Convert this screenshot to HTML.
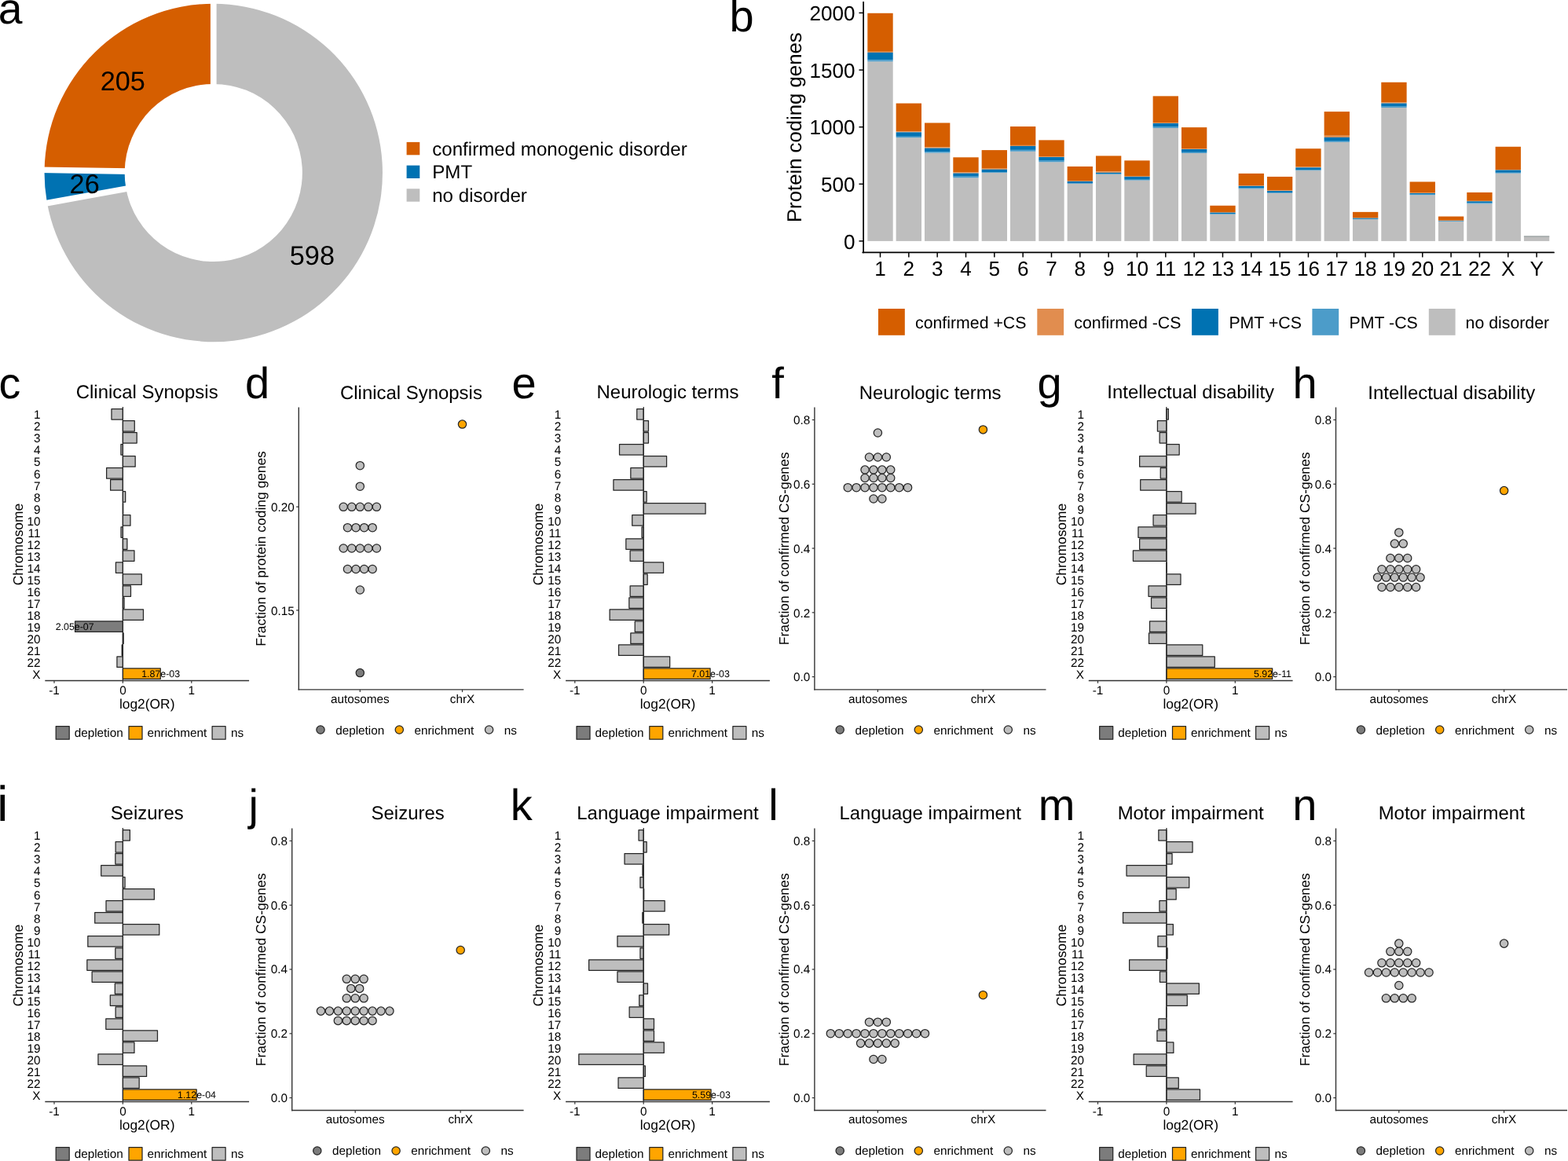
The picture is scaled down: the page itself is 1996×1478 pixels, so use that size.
<!DOCTYPE html>
<html lang="en"><head><meta charset="utf-8"><title>Figure</title>
<style>
html,body{margin:0;padding:0;background:#fff;}
body{width:1996px;height:1478px;overflow:hidden;}
svg{display:block;font-family:'Liberation Sans', Arial, Helvetica, sans-serif;text-rendering:geometricPrecision;}
</style></head><body>
<svg width="1996" height="1478" viewBox="0 0 1996 1478" role="img" aria-label="Multi-panel figure: gene disorder annotation by chromosome">
<rect x="0" y="0" width="1996" height="1478" fill="#ffffff"/>
<path d="M271.75 4.8 A215.2 215.2 0 0 0 56.58 216.33 L158.67 218.07 A113.1 113.1 0 0 1 271.75 106.9 Z" fill="#d55e00"/>
<path d="M56.58 216.33 A215.2 215.2 0 0 0 60.03 258.53 L160.48 240.25 A113.1 113.1 0 0 1 158.67 218.07 Z" fill="#0072b2"/>
<path d="M60.03 258.53 A215.2 215.2 0 1 0 271.75 4.8 L271.75 106.9 A113.1 113.1 0 1 1 160.48 240.25 Z" fill="#bebebe"/>
<line x1="271.75" y1="112.9" x2="271.75" y2="-1.2" stroke="#fff" stroke-width="7.7" stroke-linecap="butt"/>
<line x1="164.67" y1="218.17" x2="50.58" y2="216.23" stroke="#fff" stroke-width="7.7" stroke-linecap="butt"/>
<line x1="166.38" y1="239.17" x2="54.12" y2="259.6" stroke="#fff" stroke-width="7.7" stroke-linecap="butt"/>
<text x="156.3" y="115.1" font-size="34.3" text-anchor="middle" fill="#000">205</text>
<text x="107.7" y="245.6" font-size="34.3" text-anchor="middle" fill="#000">26</text>
<text x="397.4" y="337.4" font-size="34.3" text-anchor="middle" fill="#000">598</text>
<rect x="517.6" y="180.9" width="16.7" height="16.4" fill="#d55e00"/>
<text x="550.2" y="197.5" font-size="24.14" text-anchor="start" fill="#000">confirmed monogenic disorder</text>
<rect x="517.6" y="210.6" width="16.7" height="16.4" fill="#0072b2"/>
<text x="550.2" y="227.2" font-size="24.14" text-anchor="start" fill="#000">PMT</text>
<rect x="517.6" y="240.3" width="16.7" height="16.4" fill="#bebebe"/>
<text x="550.2" y="256.9" font-size="24.14" text-anchor="start" fill="#000">no disorder</text>
<text x="-2.3" y="29.9" font-size="55.2" text-anchor="start" fill="#000">a</text>
<rect x="1104.33" y="78.23" width="32.35" height="228.67" fill="#bebebe"/>
<rect x="1104.33" y="16.78" width="32.35" height="49.04" fill="#d55e00"/>
<rect x="1104.33" y="65.78" width="32.35" height="1.13" fill="#e18d4f"/>
<rect x="1104.33" y="66.86" width="32.35" height="9.52" fill="#0072b2"/>
<rect x="1104.33" y="76.33" width="32.35" height="1.94" fill="#4c9cc9"/>
<rect x="1140.65" y="175.13" width="32.35" height="131.77" fill="#bebebe"/>
<rect x="1140.65" y="131.55" width="32.35" height="35.78" fill="#d55e00"/>
<rect x="1140.65" y="167.28" width="32.35" height="1.13" fill="#e18d4f"/>
<rect x="1140.65" y="168.36" width="32.35" height="5.46" fill="#0072b2"/>
<rect x="1140.65" y="173.78" width="32.35" height="1.4" fill="#4c9cc9"/>
<rect x="1176.99" y="194.62" width="32.35" height="112.28" fill="#bebebe"/>
<rect x="1176.99" y="156.45" width="32.35" height="30.91" fill="#d55e00"/>
<rect x="1176.99" y="187.31" width="32.35" height="1.4" fill="#e18d4f"/>
<rect x="1176.99" y="188.66" width="32.35" height="4.92" fill="#0072b2"/>
<rect x="1176.99" y="193.54" width="32.35" height="1.13" fill="#4c9cc9"/>
<rect x="1213.32" y="226.29" width="32.35" height="80.61" fill="#bebebe"/>
<rect x="1213.32" y="200.3" width="32.35" height="19" fill="#d55e00"/>
<rect x="1213.32" y="219.25" width="32.35" height="1.4" fill="#e18d4f"/>
<rect x="1213.32" y="220.6" width="32.35" height="4.11" fill="#0072b2"/>
<rect x="1213.32" y="224.66" width="32.35" height="1.67" fill="#4c9cc9"/>
<rect x="1249.64" y="219.79" width="32.35" height="87.11" fill="#bebebe"/>
<rect x="1249.64" y="191.1" width="32.35" height="23.6" fill="#d55e00"/>
<rect x="1249.64" y="214.65" width="32.35" height="1.13" fill="#e18d4f"/>
<rect x="1249.64" y="215.73" width="32.35" height="3.3" fill="#0072b2"/>
<rect x="1249.64" y="218.98" width="32.35" height="0.86" fill="#4c9cc9"/>
<rect x="1285.98" y="192.72" width="32.35" height="114.18" fill="#bebebe"/>
<rect x="1285.98" y="161.05" width="32.35" height="23.87" fill="#d55e00"/>
<rect x="1285.98" y="184.87" width="32.35" height="1.13" fill="#e18d4f"/>
<rect x="1285.98" y="185.96" width="32.35" height="4.92" fill="#0072b2"/>
<rect x="1285.98" y="190.83" width="32.35" height="1.94" fill="#4c9cc9"/>
<rect x="1322.31" y="206.26" width="32.35" height="100.64" fill="#bebebe"/>
<rect x="1322.31" y="178.38" width="32.35" height="21.16" fill="#d55e00"/>
<rect x="1322.31" y="199.49" width="32.35" height="0.59" fill="#e18d4f"/>
<rect x="1322.31" y="200.03" width="32.35" height="4.65" fill="#0072b2"/>
<rect x="1322.31" y="204.63" width="32.35" height="1.67" fill="#4c9cc9"/>
<rect x="1358.63" y="233.87" width="32.35" height="73.03" fill="#bebebe"/>
<rect x="1358.63" y="211.94" width="32.35" height="18.19" fill="#d55e00"/>
<rect x="1358.63" y="230.08" width="32.35" height="0.86" fill="#e18d4f"/>
<rect x="1358.63" y="230.89" width="32.35" height="2.22" fill="#0072b2"/>
<rect x="1358.63" y="233.06" width="32.35" height="0.86" fill="#4c9cc9"/>
<rect x="1394.96" y="221.96" width="32.35" height="84.94" fill="#bebebe"/>
<rect x="1394.96" y="198.41" width="32.35" height="20.08" fill="#d55e00"/>
<rect x="1394.96" y="218.44" width="32.35" height="1.4" fill="#e18d4f"/>
<rect x="1394.96" y="219.79" width="32.35" height="1.67" fill="#0072b2"/>
<rect x="1394.96" y="221.42" width="32.35" height="0.59" fill="#4c9cc9"/>
<rect x="1431.3" y="229.54" width="32.35" height="77.36" fill="#bebebe"/>
<rect x="1431.3" y="204.36" width="32.35" height="19.81" fill="#d55e00"/>
<rect x="1431.3" y="224.12" width="32.35" height="0.86" fill="#e18d4f"/>
<rect x="1431.3" y="224.94" width="32.35" height="3.84" fill="#0072b2"/>
<rect x="1431.3" y="228.72" width="32.35" height="0.86" fill="#4c9cc9"/>
<rect x="1467.62" y="162.95" width="32.35" height="143.95" fill="#bebebe"/>
<rect x="1467.62" y="122.35" width="32.35" height="34.16" fill="#d55e00"/>
<rect x="1467.62" y="156.45" width="32.35" height="0.59" fill="#e18d4f"/>
<rect x="1467.62" y="156.99" width="32.35" height="4.11" fill="#0072b2"/>
<rect x="1467.62" y="161.05" width="32.35" height="1.94" fill="#4c9cc9"/>
<rect x="1503.96" y="194.89" width="32.35" height="112.01" fill="#bebebe"/>
<rect x="1503.96" y="162.14" width="32.35" height="27.39" fill="#d55e00"/>
<rect x="1503.96" y="189.48" width="32.35" height="0.59" fill="#e18d4f"/>
<rect x="1503.96" y="190.02" width="32.35" height="3.84" fill="#0072b2"/>
<rect x="1503.96" y="193.81" width="32.35" height="1.13" fill="#4c9cc9"/>
<rect x="1540.29" y="272.85" width="32.35" height="34.05" fill="#bebebe"/>
<rect x="1540.29" y="261.75" width="32.35" height="8.44" fill="#d55e00"/>
<rect x="1540.29" y="270.14" width="32.35" height="0.59" fill="#e18d4f"/>
<rect x="1540.29" y="270.68" width="32.35" height="1.67" fill="#0072b2"/>
<rect x="1540.29" y="272.3" width="32.35" height="0.59" fill="#4c9cc9"/>
<rect x="1576.62" y="240.36" width="32.35" height="66.54" fill="#bebebe"/>
<rect x="1576.62" y="220.87" width="32.35" height="15.48" fill="#d55e00"/>
<rect x="1576.62" y="236.3" width="32.35" height="0.59" fill="#e18d4f"/>
<rect x="1576.62" y="236.84" width="32.35" height="2.76" fill="#0072b2"/>
<rect x="1576.62" y="239.55" width="32.35" height="0.86" fill="#4c9cc9"/>
<rect x="1612.94" y="245.78" width="32.35" height="61.12" fill="#bebebe"/>
<rect x="1612.94" y="224.94" width="32.35" height="17.37" fill="#d55e00"/>
<rect x="1612.94" y="242.26" width="32.35" height="0.86" fill="#e18d4f"/>
<rect x="1612.94" y="243.07" width="32.35" height="1.94" fill="#0072b2"/>
<rect x="1612.94" y="244.97" width="32.35" height="0.86" fill="#4c9cc9"/>
<rect x="1649.27" y="217.09" width="32.35" height="89.81" fill="#bebebe"/>
<rect x="1649.27" y="189.21" width="32.35" height="23.33" fill="#d55e00"/>
<rect x="1649.27" y="212.48" width="32.35" height="0.86" fill="#e18d4f"/>
<rect x="1649.27" y="213.3" width="32.35" height="3.03" fill="#0072b2"/>
<rect x="1649.27" y="216.27" width="32.35" height="0.86" fill="#4c9cc9"/>
<rect x="1685.61" y="180.81" width="32.35" height="126.09" fill="#bebebe"/>
<rect x="1685.61" y="142.11" width="32.35" height="30.64" fill="#d55e00"/>
<rect x="1685.61" y="172.69" width="32.35" height="2.22" fill="#e18d4f"/>
<rect x="1685.61" y="174.86" width="32.35" height="4.92" fill="#0072b2"/>
<rect x="1685.61" y="179.73" width="32.35" height="1.13" fill="#4c9cc9"/>
<rect x="1721.94" y="279.07" width="32.35" height="27.83" fill="#bebebe"/>
<rect x="1721.94" y="269.87" width="32.35" height="7.63" fill="#d55e00"/>
<rect x="1721.94" y="277.45" width="32.35" height="0.32" fill="#e18d4f"/>
<rect x="1721.94" y="277.72" width="32.35" height="1.13" fill="#0072b2"/>
<rect x="1721.94" y="278.8" width="32.35" height="0.32" fill="#4c9cc9"/>
<rect x="1758.27" y="136.96" width="32.35" height="169.94" fill="#bebebe"/>
<rect x="1758.27" y="104.75" width="32.35" height="25.76" fill="#d55e00"/>
<rect x="1758.27" y="130.47" width="32.35" height="1.13" fill="#e18d4f"/>
<rect x="1758.27" y="131.55" width="32.35" height="4.11" fill="#0072b2"/>
<rect x="1758.27" y="135.61" width="32.35" height="1.4" fill="#4c9cc9"/>
<rect x="1794.6" y="248.21" width="32.35" height="58.69" fill="#bebebe"/>
<rect x="1794.6" y="231.43" width="32.35" height="14.13" fill="#d55e00"/>
<rect x="1794.6" y="245.51" width="32.35" height="0.59" fill="#e18d4f"/>
<rect x="1794.6" y="246.05" width="32.35" height="1.67" fill="#0072b2"/>
<rect x="1794.6" y="247.67" width="32.35" height="0.59" fill="#4c9cc9"/>
<rect x="1830.92" y="281.78" width="32.35" height="25.12" fill="#bebebe"/>
<rect x="1830.92" y="275.55" width="32.35" height="5.19" fill="#d55e00"/>
<rect x="1830.92" y="280.7" width="32.35" height="0.32" fill="#e18d4f"/>
<rect x="1830.92" y="280.97" width="32.35" height="0.59" fill="#0072b2"/>
<rect x="1830.92" y="281.51" width="32.35" height="0.32" fill="#4c9cc9"/>
<rect x="1867.25" y="259.31" width="32.35" height="47.59" fill="#bebebe"/>
<rect x="1867.25" y="244.97" width="32.35" height="10.88" fill="#d55e00"/>
<rect x="1867.25" y="255.79" width="32.35" height="0.59" fill="#e18d4f"/>
<rect x="1867.25" y="256.33" width="32.35" height="2.22" fill="#0072b2"/>
<rect x="1867.25" y="258.5" width="32.35" height="0.86" fill="#4c9cc9"/>
<rect x="1903.59" y="220.6" width="32.35" height="86.3" fill="#bebebe"/>
<rect x="1903.59" y="186.77" width="32.35" height="29.28" fill="#d55e00"/>
<rect x="1903.59" y="216" width="32.35" height="0.59" fill="#e18d4f"/>
<rect x="1903.59" y="216.54" width="32.35" height="3.3" fill="#0072b2"/>
<rect x="1903.59" y="219.79" width="32.35" height="0.86" fill="#4c9cc9"/>
<rect x="1939.91" y="300.45" width="32.35" height="6.45" fill="#bebebe"/>
<rect x="1939.91" y="300.45" width="32.35" height="1.1" fill="#979f9f"/>
<line x1="1099.1" y1="2.1" x2="1099.1" y2="322.35" stroke="#000" stroke-width="1.75" stroke-linecap="butt"/>
<line x1="1098.25" y1="321.45" x2="1978" y2="321.45" stroke="#000" stroke-width="1.8" stroke-linecap="round"/>
<line x1="1093.5" y1="306.9" x2="1099.1" y2="306.9" stroke="#000" stroke-width="1.5" stroke-linecap="butt"/>
<text x="1088.6" y="316.5" font-size="26.1" text-anchor="end" fill="#000">0</text>
<line x1="1093.5" y1="234.3" x2="1099.1" y2="234.3" stroke="#000" stroke-width="1.5" stroke-linecap="butt"/>
<text x="1088.6" y="243.9" font-size="26.1" text-anchor="end" fill="#000">500</text>
<line x1="1093.5" y1="161.7" x2="1099.1" y2="161.7" stroke="#000" stroke-width="1.5" stroke-linecap="butt"/>
<text x="1088.6" y="171.3" font-size="26.1" text-anchor="end" fill="#000">1000</text>
<line x1="1093.5" y1="89.1" x2="1099.1" y2="89.1" stroke="#000" stroke-width="1.5" stroke-linecap="butt"/>
<text x="1088.6" y="98.7" font-size="26.1" text-anchor="end" fill="#000">1500</text>
<line x1="1093.5" y1="16.4" x2="1099.1" y2="16.4" stroke="#000" stroke-width="1.5" stroke-linecap="butt"/>
<text x="1088.6" y="26" font-size="26.1" text-anchor="end" fill="#000">2000</text>
<line x1="1120.5" y1="321.45" x2="1120.5" y2="327.6" stroke="#000" stroke-width="1.5" stroke-linecap="butt"/>
<text x="1120.5" y="351.2" font-size="26.1" text-anchor="middle" fill="#000">1</text>
<line x1="1156.83" y1="321.45" x2="1156.83" y2="327.6" stroke="#000" stroke-width="1.5" stroke-linecap="butt"/>
<text x="1156.83" y="351.2" font-size="26.1" text-anchor="middle" fill="#000">2</text>
<line x1="1193.16" y1="321.45" x2="1193.16" y2="327.6" stroke="#000" stroke-width="1.5" stroke-linecap="butt"/>
<text x="1193.16" y="351.2" font-size="26.1" text-anchor="middle" fill="#000">3</text>
<line x1="1229.49" y1="321.45" x2="1229.49" y2="327.6" stroke="#000" stroke-width="1.5" stroke-linecap="butt"/>
<text x="1229.49" y="351.2" font-size="26.1" text-anchor="middle" fill="#000">4</text>
<line x1="1265.82" y1="321.45" x2="1265.82" y2="327.6" stroke="#000" stroke-width="1.5" stroke-linecap="butt"/>
<text x="1265.82" y="351.2" font-size="26.1" text-anchor="middle" fill="#000">5</text>
<line x1="1302.15" y1="321.45" x2="1302.15" y2="327.6" stroke="#000" stroke-width="1.5" stroke-linecap="butt"/>
<text x="1302.15" y="351.2" font-size="26.1" text-anchor="middle" fill="#000">6</text>
<line x1="1338.48" y1="321.45" x2="1338.48" y2="327.6" stroke="#000" stroke-width="1.5" stroke-linecap="butt"/>
<text x="1338.48" y="351.2" font-size="26.1" text-anchor="middle" fill="#000">7</text>
<line x1="1374.81" y1="321.45" x2="1374.81" y2="327.6" stroke="#000" stroke-width="1.5" stroke-linecap="butt"/>
<text x="1374.81" y="351.2" font-size="26.1" text-anchor="middle" fill="#000">8</text>
<line x1="1411.14" y1="321.45" x2="1411.14" y2="327.6" stroke="#000" stroke-width="1.5" stroke-linecap="butt"/>
<text x="1411.14" y="351.2" font-size="26.1" text-anchor="middle" fill="#000">9</text>
<line x1="1447.47" y1="321.45" x2="1447.47" y2="327.6" stroke="#000" stroke-width="1.5" stroke-linecap="butt"/>
<text x="1447.47" y="351.2" font-size="26.1" text-anchor="middle" fill="#000">10</text>
<line x1="1483.8" y1="321.45" x2="1483.8" y2="327.6" stroke="#000" stroke-width="1.5" stroke-linecap="butt"/>
<text x="1483.8" y="351.2" font-size="26.1" text-anchor="middle" fill="#000">11</text>
<line x1="1520.13" y1="321.45" x2="1520.13" y2="327.6" stroke="#000" stroke-width="1.5" stroke-linecap="butt"/>
<text x="1520.13" y="351.2" font-size="26.1" text-anchor="middle" fill="#000">12</text>
<line x1="1556.46" y1="321.45" x2="1556.46" y2="327.6" stroke="#000" stroke-width="1.5" stroke-linecap="butt"/>
<text x="1556.46" y="351.2" font-size="26.1" text-anchor="middle" fill="#000">13</text>
<line x1="1592.79" y1="321.45" x2="1592.79" y2="327.6" stroke="#000" stroke-width="1.5" stroke-linecap="butt"/>
<text x="1592.79" y="351.2" font-size="26.1" text-anchor="middle" fill="#000">14</text>
<line x1="1629.12" y1="321.45" x2="1629.12" y2="327.6" stroke="#000" stroke-width="1.5" stroke-linecap="butt"/>
<text x="1629.12" y="351.2" font-size="26.1" text-anchor="middle" fill="#000">15</text>
<line x1="1665.45" y1="321.45" x2="1665.45" y2="327.6" stroke="#000" stroke-width="1.5" stroke-linecap="butt"/>
<text x="1665.45" y="351.2" font-size="26.1" text-anchor="middle" fill="#000">16</text>
<line x1="1701.78" y1="321.45" x2="1701.78" y2="327.6" stroke="#000" stroke-width="1.5" stroke-linecap="butt"/>
<text x="1701.78" y="351.2" font-size="26.1" text-anchor="middle" fill="#000">17</text>
<line x1="1738.11" y1="321.45" x2="1738.11" y2="327.6" stroke="#000" stroke-width="1.5" stroke-linecap="butt"/>
<text x="1738.11" y="351.2" font-size="26.1" text-anchor="middle" fill="#000">18</text>
<line x1="1774.44" y1="321.45" x2="1774.44" y2="327.6" stroke="#000" stroke-width="1.5" stroke-linecap="butt"/>
<text x="1774.44" y="351.2" font-size="26.1" text-anchor="middle" fill="#000">19</text>
<line x1="1810.77" y1="321.45" x2="1810.77" y2="327.6" stroke="#000" stroke-width="1.5" stroke-linecap="butt"/>
<text x="1810.77" y="351.2" font-size="26.1" text-anchor="middle" fill="#000">20</text>
<line x1="1847.1" y1="321.45" x2="1847.1" y2="327.6" stroke="#000" stroke-width="1.5" stroke-linecap="butt"/>
<text x="1847.1" y="351.2" font-size="26.1" text-anchor="middle" fill="#000">21</text>
<line x1="1883.43" y1="321.45" x2="1883.43" y2="327.6" stroke="#000" stroke-width="1.5" stroke-linecap="butt"/>
<text x="1883.43" y="351.2" font-size="26.1" text-anchor="middle" fill="#000">22</text>
<line x1="1919.76" y1="321.45" x2="1919.76" y2="327.6" stroke="#000" stroke-width="1.5" stroke-linecap="butt"/>
<text x="1919.76" y="351.2" font-size="26.1" text-anchor="middle" fill="#000">X</text>
<line x1="1956.09" y1="321.45" x2="1956.09" y2="327.6" stroke="#000" stroke-width="1.5" stroke-linecap="butt"/>
<text x="1956.09" y="351.2" font-size="26.1" text-anchor="middle" fill="#000">Y</text>
<text x="1020.2" y="162.2" font-size="25.72" text-anchor="middle" fill="#000" transform="rotate(-90 1020.2 162.2)">Protein coding genes</text>
<rect x="1118" y="393" width="33.8" height="33.8" fill="#d55e00"/>
<text x="1165" y="417.8" font-size="21.3" text-anchor="start" fill="#000">confirmed +CS</text>
<rect x="1320.3" y="393" width="33.8" height="33.8" fill="#e18d4f"/>
<text x="1367.3" y="417.8" font-size="21.3" text-anchor="start" fill="#000">confirmed -CS</text>
<rect x="1517.1" y="393" width="33.8" height="33.8" fill="#0072b2"/>
<text x="1564.4" y="417.8" font-size="21.3" text-anchor="start" fill="#000">PMT +CS</text>
<rect x="1670.4" y="393" width="33.8" height="33.8" fill="#4c9cc9"/>
<text x="1717.6" y="417.8" font-size="21.3" text-anchor="start" fill="#000">PMT -CS</text>
<rect x="1818.8" y="393" width="33.8" height="33.8" fill="#bebebe"/>
<text x="1865.6" y="417.8" font-size="21.3" text-anchor="start" fill="#000">no disorder</text>
<text x="928.6" y="39.85" font-size="56" text-anchor="start" fill="#000">b</text>
<rect x="141.97" y="520.55" width="14.43" height="13.5" fill="#bebebe" stroke="#262626" stroke-width="1.25" stroke-linejoin="round"/>
<rect x="156.4" y="535.57" width="14.88" height="13.5" fill="#bebebe" stroke="#262626" stroke-width="1.25" stroke-linejoin="round"/>
<rect x="156.4" y="550.59" width="17.78" height="13.5" fill="#bebebe" stroke="#262626" stroke-width="1.25" stroke-linejoin="round"/>
<rect x="153.92" y="565.61" width="2.48" height="13.5" fill="#bebebe" stroke="#262626" stroke-width="1.25" stroke-linejoin="round"/>
<rect x="156.4" y="580.63" width="15.78" height="13.5" fill="#bebebe" stroke="#262626" stroke-width="1.25" stroke-linejoin="round"/>
<rect x="135.62" y="595.65" width="20.78" height="13.5" fill="#bebebe" stroke="#262626" stroke-width="1.25" stroke-linejoin="round"/>
<rect x="140.62" y="610.67" width="15.78" height="13.5" fill="#bebebe" stroke="#262626" stroke-width="1.25" stroke-linejoin="round"/>
<rect x="156.4" y="625.69" width="3.28" height="13.5" fill="#bebebe" stroke="#262626" stroke-width="1.25" stroke-linejoin="round"/>
<rect x="156.4" y="640.71" width="0.3" height="13.5" fill="#bebebe" stroke="#262626" stroke-width="1.25" stroke-linejoin="round"/>
<rect x="156.4" y="655.73" width="9.58" height="13.5" fill="#bebebe" stroke="#262626" stroke-width="1.25" stroke-linejoin="round"/>
<rect x="154.03" y="670.75" width="2.38" height="13.5" fill="#bebebe" stroke="#262626" stroke-width="1.25" stroke-linejoin="round"/>
<rect x="156.4" y="685.77" width="5.48" height="13.5" fill="#bebebe" stroke="#262626" stroke-width="1.25" stroke-linejoin="round"/>
<rect x="156.4" y="700.79" width="14.58" height="13.5" fill="#bebebe" stroke="#262626" stroke-width="1.25" stroke-linejoin="round"/>
<rect x="147.42" y="715.81" width="8.98" height="13.5" fill="#bebebe" stroke="#262626" stroke-width="1.25" stroke-linejoin="round"/>
<rect x="156.4" y="730.83" width="23.88" height="13.5" fill="#bebebe" stroke="#262626" stroke-width="1.25" stroke-linejoin="round"/>
<rect x="156.4" y="745.85" width="10.08" height="13.5" fill="#bebebe" stroke="#262626" stroke-width="1.25" stroke-linejoin="round"/>
<rect x="156.4" y="760.87" width="1.68" height="13.5" fill="#bebebe" stroke="#262626" stroke-width="1.25" stroke-linejoin="round"/>
<rect x="156.4" y="775.89" width="26.08" height="13.5" fill="#bebebe" stroke="#262626" stroke-width="1.25" stroke-linejoin="round"/>
<rect x="95.53" y="790.91" width="60.88" height="13.5" fill="#7c7c7c" stroke="#262626" stroke-width="1.25" stroke-linejoin="round"/>
<rect x="156.4" y="805.93" width="0.8" height="13.5" fill="#bebebe" stroke="#262626" stroke-width="1.25" stroke-linejoin="round"/>
<rect x="155.2" y="820.95" width="1.2" height="13.5" fill="#bebebe" stroke="#262626" stroke-width="1.25" stroke-linejoin="round"/>
<rect x="148.92" y="835.97" width="7.48" height="13.5" fill="#bebebe" stroke="#262626" stroke-width="1.25" stroke-linejoin="round"/>
<rect x="156.4" y="850.99" width="47.88" height="13.5" fill="#ffa500" stroke="#262626" stroke-width="1.25" stroke-linejoin="round"/>
<line x1="156.4" y1="518" x2="156.4" y2="866.4" stroke="#262626" stroke-width="1.25" stroke-linecap="butt"/>
<text x="95.2" y="802.41" font-size="12.4" text-anchor="middle" fill="#000">2.05e-07</text>
<text x="204.6" y="862.49" font-size="12.4" text-anchor="middle" fill="#000">1.87e-03</text>
<line x1="57.3" y1="866.5" x2="317.1" y2="866.5" stroke="#333333" stroke-width="1.4" stroke-linecap="butt"/>
<line x1="69" y1="866.5" x2="69" y2="869.8" stroke="#333333" stroke-width="1.2" stroke-linecap="butt"/>
<text x="69" y="883.5" font-size="15.3" text-anchor="middle" fill="#000">-1</text>
<line x1="156.4" y1="866.5" x2="156.4" y2="869.8" stroke="#333333" stroke-width="1.2" stroke-linecap="butt"/>
<text x="156.4" y="883.5" font-size="15.3" text-anchor="middle" fill="#000">0</text>
<line x1="243.8" y1="866.5" x2="243.8" y2="869.8" stroke="#333333" stroke-width="1.2" stroke-linecap="butt"/>
<text x="243.8" y="883.5" font-size="15.3" text-anchor="middle" fill="#000">1</text>
<text x="187.2" y="902.2" font-size="17.4" text-anchor="middle" fill="#000">log2(OR)</text>
<text x="51.5" y="533.4" font-size="15.3" text-anchor="end" fill="#000">1</text>
<text x="51.5" y="548.42" font-size="15.3" text-anchor="end" fill="#000">2</text>
<text x="51.5" y="563.44" font-size="15.3" text-anchor="end" fill="#000">3</text>
<text x="51.5" y="578.46" font-size="15.3" text-anchor="end" fill="#000">4</text>
<text x="51.5" y="593.48" font-size="15.3" text-anchor="end" fill="#000">5</text>
<text x="51.5" y="608.5" font-size="15.3" text-anchor="end" fill="#000">6</text>
<text x="51.5" y="623.52" font-size="15.3" text-anchor="end" fill="#000">7</text>
<text x="51.5" y="638.54" font-size="15.3" text-anchor="end" fill="#000">8</text>
<text x="51.5" y="653.56" font-size="15.3" text-anchor="end" fill="#000">9</text>
<text x="51.5" y="668.58" font-size="15.3" text-anchor="end" fill="#000">10</text>
<text x="51.5" y="683.6" font-size="15.3" text-anchor="end" fill="#000">11</text>
<text x="51.5" y="698.62" font-size="15.3" text-anchor="end" fill="#000">12</text>
<text x="51.5" y="713.64" font-size="15.3" text-anchor="end" fill="#000">13</text>
<text x="51.5" y="728.66" font-size="15.3" text-anchor="end" fill="#000">14</text>
<text x="51.5" y="743.68" font-size="15.3" text-anchor="end" fill="#000">15</text>
<text x="51.5" y="758.7" font-size="15.3" text-anchor="end" fill="#000">16</text>
<text x="51.5" y="773.72" font-size="15.3" text-anchor="end" fill="#000">17</text>
<text x="51.5" y="788.74" font-size="15.3" text-anchor="end" fill="#000">18</text>
<text x="51.5" y="803.76" font-size="15.3" text-anchor="end" fill="#000">19</text>
<text x="51.5" y="818.78" font-size="15.3" text-anchor="end" fill="#000">20</text>
<text x="51.5" y="833.8" font-size="15.3" text-anchor="end" fill="#000">21</text>
<text x="51.5" y="848.82" font-size="15.3" text-anchor="end" fill="#000">22</text>
<text x="51.5" y="863.84" font-size="15.3" text-anchor="end" fill="#000">X</text>
<text x="28.6" y="693" font-size="17.4" text-anchor="middle" fill="#000" transform="rotate(-90 28.6 693)">Chromosome</text>
<text x="187.2" y="507.35" font-size="23.93" text-anchor="middle" fill="#000">Clinical Synopsis</text>
<rect x="71.2" y="924.5" width="17" height="16.7" fill="#7c7c7c" stroke="#262626" stroke-width="1.25" stroke-linejoin="round"/>
<text x="94.7" y="938.3" font-size="15.3" text-anchor="start" fill="#000">depletion</text>
<rect x="164" y="924.5" width="17" height="16.7" fill="#ffa500" stroke="#262626" stroke-width="1.25" stroke-linejoin="round"/>
<text x="187.6" y="938.3" font-size="15.3" text-anchor="start" fill="#000">enrichment</text>
<rect x="270.1" y="924.5" width="17" height="16.7" fill="#bebebe" stroke="#262626" stroke-width="1.25" stroke-linejoin="round"/>
<text x="293.9" y="938.3" font-size="15.3" text-anchor="start" fill="#000">ns</text>
<text x="-1.5" y="507.1" font-size="55.6" text-anchor="start" fill="#000">c</text>
<rect x="810.73" y="520.55" width="8.47" height="13.5" fill="#bebebe" stroke="#262626" stroke-width="1.25" stroke-linejoin="round"/>
<rect x="819.2" y="535.57" width="6.27" height="13.5" fill="#bebebe" stroke="#262626" stroke-width="1.25" stroke-linejoin="round"/>
<rect x="819.2" y="550.59" width="6.27" height="13.5" fill="#bebebe" stroke="#262626" stroke-width="1.25" stroke-linejoin="round"/>
<rect x="788.53" y="565.61" width="30.67" height="13.5" fill="#bebebe" stroke="#262626" stroke-width="1.25" stroke-linejoin="round"/>
<rect x="819.2" y="580.63" width="29.38" height="13.5" fill="#bebebe" stroke="#262626" stroke-width="1.25" stroke-linejoin="round"/>
<rect x="802.83" y="595.65" width="16.38" height="13.5" fill="#bebebe" stroke="#262626" stroke-width="1.25" stroke-linejoin="round"/>
<rect x="780.93" y="610.67" width="38.27" height="13.5" fill="#bebebe" stroke="#262626" stroke-width="1.25" stroke-linejoin="round"/>
<rect x="819.2" y="625.69" width="3.97" height="13.5" fill="#bebebe" stroke="#262626" stroke-width="1.25" stroke-linejoin="round"/>
<rect x="819.2" y="640.71" width="78.88" height="13.5" fill="#bebebe" stroke="#262626" stroke-width="1.25" stroke-linejoin="round"/>
<rect x="804.73" y="655.73" width="14.47" height="13.5" fill="#bebebe" stroke="#262626" stroke-width="1.25" stroke-linejoin="round"/>
<rect x="817.03" y="670.75" width="2.17" height="13.5" fill="#bebebe" stroke="#262626" stroke-width="1.25" stroke-linejoin="round"/>
<rect x="796.83" y="685.77" width="22.38" height="13.5" fill="#bebebe" stroke="#262626" stroke-width="1.25" stroke-linejoin="round"/>
<rect x="802.13" y="700.79" width="17.07" height="13.5" fill="#bebebe" stroke="#262626" stroke-width="1.25" stroke-linejoin="round"/>
<rect x="819.2" y="715.81" width="25.38" height="13.5" fill="#bebebe" stroke="#262626" stroke-width="1.25" stroke-linejoin="round"/>
<rect x="819.2" y="730.83" width="4.97" height="13.5" fill="#bebebe" stroke="#262626" stroke-width="1.25" stroke-linejoin="round"/>
<rect x="802.13" y="745.85" width="17.07" height="13.5" fill="#bebebe" stroke="#262626" stroke-width="1.25" stroke-linejoin="round"/>
<rect x="800.83" y="760.87" width="18.38" height="13.5" fill="#bebebe" stroke="#262626" stroke-width="1.25" stroke-linejoin="round"/>
<rect x="776.13" y="775.89" width="43.07" height="13.5" fill="#bebebe" stroke="#262626" stroke-width="1.25" stroke-linejoin="round"/>
<rect x="808.23" y="790.91" width="10.97" height="13.5" fill="#bebebe" stroke="#262626" stroke-width="1.25" stroke-linejoin="round"/>
<rect x="802.83" y="805.93" width="16.38" height="13.5" fill="#bebebe" stroke="#262626" stroke-width="1.25" stroke-linejoin="round"/>
<rect x="787.53" y="820.95" width="31.67" height="13.5" fill="#bebebe" stroke="#262626" stroke-width="1.25" stroke-linejoin="round"/>
<rect x="819.2" y="835.97" width="33.47" height="13.5" fill="#bebebe" stroke="#262626" stroke-width="1.25" stroke-linejoin="round"/>
<rect x="819.2" y="850.99" width="84.88" height="13.5" fill="#ffa500" stroke="#262626" stroke-width="1.25" stroke-linejoin="round"/>
<line x1="819.2" y1="518" x2="819.2" y2="866.4" stroke="#262626" stroke-width="1.25" stroke-linecap="butt"/>
<text x="904.4" y="862.49" font-size="12.4" text-anchor="middle" fill="#000">7.01e-03</text>
<line x1="720.1" y1="866.5" x2="979.9" y2="866.5" stroke="#333333" stroke-width="1.4" stroke-linecap="butt"/>
<line x1="731.8" y1="866.5" x2="731.8" y2="869.8" stroke="#333333" stroke-width="1.2" stroke-linecap="butt"/>
<text x="731.8" y="883.5" font-size="15.3" text-anchor="middle" fill="#000">-1</text>
<line x1="819.2" y1="866.5" x2="819.2" y2="869.8" stroke="#333333" stroke-width="1.2" stroke-linecap="butt"/>
<text x="819.2" y="883.5" font-size="15.3" text-anchor="middle" fill="#000">0</text>
<line x1="906.6" y1="866.5" x2="906.6" y2="869.8" stroke="#333333" stroke-width="1.2" stroke-linecap="butt"/>
<text x="906.6" y="883.5" font-size="15.3" text-anchor="middle" fill="#000">1</text>
<text x="850" y="902.2" font-size="17.4" text-anchor="middle" fill="#000">log2(OR)</text>
<text x="714.3" y="533.4" font-size="15.3" text-anchor="end" fill="#000">1</text>
<text x="714.3" y="548.42" font-size="15.3" text-anchor="end" fill="#000">2</text>
<text x="714.3" y="563.44" font-size="15.3" text-anchor="end" fill="#000">3</text>
<text x="714.3" y="578.46" font-size="15.3" text-anchor="end" fill="#000">4</text>
<text x="714.3" y="593.48" font-size="15.3" text-anchor="end" fill="#000">5</text>
<text x="714.3" y="608.5" font-size="15.3" text-anchor="end" fill="#000">6</text>
<text x="714.3" y="623.52" font-size="15.3" text-anchor="end" fill="#000">7</text>
<text x="714.3" y="638.54" font-size="15.3" text-anchor="end" fill="#000">8</text>
<text x="714.3" y="653.56" font-size="15.3" text-anchor="end" fill="#000">9</text>
<text x="714.3" y="668.58" font-size="15.3" text-anchor="end" fill="#000">10</text>
<text x="714.3" y="683.6" font-size="15.3" text-anchor="end" fill="#000">11</text>
<text x="714.3" y="698.62" font-size="15.3" text-anchor="end" fill="#000">12</text>
<text x="714.3" y="713.64" font-size="15.3" text-anchor="end" fill="#000">13</text>
<text x="714.3" y="728.66" font-size="15.3" text-anchor="end" fill="#000">14</text>
<text x="714.3" y="743.68" font-size="15.3" text-anchor="end" fill="#000">15</text>
<text x="714.3" y="758.7" font-size="15.3" text-anchor="end" fill="#000">16</text>
<text x="714.3" y="773.72" font-size="15.3" text-anchor="end" fill="#000">17</text>
<text x="714.3" y="788.74" font-size="15.3" text-anchor="end" fill="#000">18</text>
<text x="714.3" y="803.76" font-size="15.3" text-anchor="end" fill="#000">19</text>
<text x="714.3" y="818.78" font-size="15.3" text-anchor="end" fill="#000">20</text>
<text x="714.3" y="833.8" font-size="15.3" text-anchor="end" fill="#000">21</text>
<text x="714.3" y="848.82" font-size="15.3" text-anchor="end" fill="#000">22</text>
<text x="714.3" y="863.84" font-size="15.3" text-anchor="end" fill="#000">X</text>
<text x="691.4" y="693" font-size="17.4" text-anchor="middle" fill="#000" transform="rotate(-90 691.4 693)">Chromosome</text>
<text x="850" y="507.35" font-size="23.93" text-anchor="middle" fill="#000">Neurologic terms</text>
<rect x="734" y="924.5" width="17" height="16.7" fill="#7c7c7c" stroke="#262626" stroke-width="1.25" stroke-linejoin="round"/>
<text x="757.5" y="938.3" font-size="15.3" text-anchor="start" fill="#000">depletion</text>
<rect x="826.8" y="924.5" width="17" height="16.7" fill="#ffa500" stroke="#262626" stroke-width="1.25" stroke-linejoin="round"/>
<text x="850.4" y="938.3" font-size="15.3" text-anchor="start" fill="#000">enrichment</text>
<rect x="932.9" y="924.5" width="17" height="16.7" fill="#bebebe" stroke="#262626" stroke-width="1.25" stroke-linejoin="round"/>
<text x="956.7" y="938.3" font-size="15.3" text-anchor="start" fill="#000">ns</text>
<text x="651.5" y="507.1" font-size="56" text-anchor="start" fill="#000">e</text>
<rect x="1484.9" y="520.55" width="2.47" height="13.5" fill="#bebebe" stroke="#262626" stroke-width="1.25" stroke-linejoin="round"/>
<rect x="1473.43" y="535.57" width="11.47" height="13.5" fill="#bebebe" stroke="#262626" stroke-width="1.25" stroke-linejoin="round"/>
<rect x="1476.13" y="550.59" width="8.77" height="13.5" fill="#bebebe" stroke="#262626" stroke-width="1.25" stroke-linejoin="round"/>
<rect x="1484.9" y="565.61" width="16.27" height="13.5" fill="#bebebe" stroke="#262626" stroke-width="1.25" stroke-linejoin="round"/>
<rect x="1450.63" y="580.63" width="34.27" height="13.5" fill="#bebebe" stroke="#262626" stroke-width="1.25" stroke-linejoin="round"/>
<rect x="1477.23" y="595.65" width="7.67" height="13.5" fill="#bebebe" stroke="#262626" stroke-width="1.25" stroke-linejoin="round"/>
<rect x="1451.73" y="610.67" width="33.17" height="13.5" fill="#bebebe" stroke="#262626" stroke-width="1.25" stroke-linejoin="round"/>
<rect x="1484.9" y="625.69" width="19.27" height="13.5" fill="#bebebe" stroke="#262626" stroke-width="1.25" stroke-linejoin="round"/>
<rect x="1484.9" y="640.71" width="37.17" height="13.5" fill="#bebebe" stroke="#262626" stroke-width="1.25" stroke-linejoin="round"/>
<rect x="1468.03" y="655.73" width="16.88" height="13.5" fill="#bebebe" stroke="#262626" stroke-width="1.25" stroke-linejoin="round"/>
<rect x="1448.93" y="670.75" width="35.97" height="13.5" fill="#bebebe" stroke="#262626" stroke-width="1.25" stroke-linejoin="round"/>
<rect x="1450.63" y="685.77" width="34.27" height="13.5" fill="#bebebe" stroke="#262626" stroke-width="1.25" stroke-linejoin="round"/>
<rect x="1442.43" y="700.79" width="42.47" height="13.5" fill="#bebebe" stroke="#262626" stroke-width="1.25" stroke-linejoin="round"/>
<rect x="1484.9" y="715.81" width="0.3" height="13.5" fill="#bebebe" stroke="#262626" stroke-width="1.25" stroke-linejoin="round"/>
<rect x="1484.9" y="730.83" width="18.08" height="13.5" fill="#bebebe" stroke="#262626" stroke-width="1.25" stroke-linejoin="round"/>
<rect x="1462.03" y="745.85" width="22.88" height="13.5" fill="#bebebe" stroke="#262626" stroke-width="1.25" stroke-linejoin="round"/>
<rect x="1465.53" y="760.87" width="19.38" height="13.5" fill="#bebebe" stroke="#262626" stroke-width="1.25" stroke-linejoin="round"/>
<rect x="1484.6" y="775.89" width="0.3" height="13.5" fill="#bebebe" stroke="#262626" stroke-width="1.25" stroke-linejoin="round"/>
<rect x="1463.53" y="790.91" width="21.38" height="13.5" fill="#bebebe" stroke="#262626" stroke-width="1.25" stroke-linejoin="round"/>
<rect x="1462.53" y="805.93" width="22.38" height="13.5" fill="#bebebe" stroke="#262626" stroke-width="1.25" stroke-linejoin="round"/>
<rect x="1484.9" y="820.95" width="45.88" height="13.5" fill="#bebebe" stroke="#262626" stroke-width="1.25" stroke-linejoin="round"/>
<rect x="1484.9" y="835.97" width="61.38" height="13.5" fill="#bebebe" stroke="#262626" stroke-width="1.25" stroke-linejoin="round"/>
<rect x="1484.9" y="850.99" width="134.77" height="13.5" fill="#ffa500" stroke="#262626" stroke-width="1.25" stroke-linejoin="round"/>
<line x1="1484.9" y1="518" x2="1484.9" y2="866.4" stroke="#262626" stroke-width="1.25" stroke-linecap="butt"/>
<text x="1620" y="862.49" font-size="12.4" text-anchor="middle" fill="#000">5.92e-11</text>
<line x1="1385.8" y1="866.5" x2="1645.6" y2="866.5" stroke="#333333" stroke-width="1.4" stroke-linecap="butt"/>
<line x1="1397.5" y1="866.5" x2="1397.5" y2="869.8" stroke="#333333" stroke-width="1.2" stroke-linecap="butt"/>
<text x="1397.5" y="883.5" font-size="15.3" text-anchor="middle" fill="#000">-1</text>
<line x1="1484.9" y1="866.5" x2="1484.9" y2="869.8" stroke="#333333" stroke-width="1.2" stroke-linecap="butt"/>
<text x="1484.9" y="883.5" font-size="15.3" text-anchor="middle" fill="#000">0</text>
<line x1="1572.3" y1="866.5" x2="1572.3" y2="869.8" stroke="#333333" stroke-width="1.2" stroke-linecap="butt"/>
<text x="1572.3" y="883.5" font-size="15.3" text-anchor="middle" fill="#000">1</text>
<text x="1515.7" y="902.2" font-size="17.4" text-anchor="middle" fill="#000">log2(OR)</text>
<text x="1380" y="533.4" font-size="15.3" text-anchor="end" fill="#000">1</text>
<text x="1380" y="548.42" font-size="15.3" text-anchor="end" fill="#000">2</text>
<text x="1380" y="563.44" font-size="15.3" text-anchor="end" fill="#000">3</text>
<text x="1380" y="578.46" font-size="15.3" text-anchor="end" fill="#000">4</text>
<text x="1380" y="593.48" font-size="15.3" text-anchor="end" fill="#000">5</text>
<text x="1380" y="608.5" font-size="15.3" text-anchor="end" fill="#000">6</text>
<text x="1380" y="623.52" font-size="15.3" text-anchor="end" fill="#000">7</text>
<text x="1380" y="638.54" font-size="15.3" text-anchor="end" fill="#000">8</text>
<text x="1380" y="653.56" font-size="15.3" text-anchor="end" fill="#000">9</text>
<text x="1380" y="668.58" font-size="15.3" text-anchor="end" fill="#000">10</text>
<text x="1380" y="683.6" font-size="15.3" text-anchor="end" fill="#000">11</text>
<text x="1380" y="698.62" font-size="15.3" text-anchor="end" fill="#000">12</text>
<text x="1380" y="713.64" font-size="15.3" text-anchor="end" fill="#000">13</text>
<text x="1380" y="728.66" font-size="15.3" text-anchor="end" fill="#000">14</text>
<text x="1380" y="743.68" font-size="15.3" text-anchor="end" fill="#000">15</text>
<text x="1380" y="758.7" font-size="15.3" text-anchor="end" fill="#000">16</text>
<text x="1380" y="773.72" font-size="15.3" text-anchor="end" fill="#000">17</text>
<text x="1380" y="788.74" font-size="15.3" text-anchor="end" fill="#000">18</text>
<text x="1380" y="803.76" font-size="15.3" text-anchor="end" fill="#000">19</text>
<text x="1380" y="818.78" font-size="15.3" text-anchor="end" fill="#000">20</text>
<text x="1380" y="833.8" font-size="15.3" text-anchor="end" fill="#000">21</text>
<text x="1380" y="848.82" font-size="15.3" text-anchor="end" fill="#000">22</text>
<text x="1380" y="863.84" font-size="15.3" text-anchor="end" fill="#000">X</text>
<text x="1357.1" y="693" font-size="17.4" text-anchor="middle" fill="#000" transform="rotate(-90 1357.1 693)">Chromosome</text>
<text x="1515.7" y="507.35" font-size="23.93" text-anchor="middle" fill="#000">Intellectual disability</text>
<rect x="1399.7" y="924.5" width="17" height="16.7" fill="#7c7c7c" stroke="#262626" stroke-width="1.25" stroke-linejoin="round"/>
<text x="1423.2" y="938.3" font-size="15.3" text-anchor="start" fill="#000">depletion</text>
<rect x="1492.5" y="924.5" width="17" height="16.7" fill="#ffa500" stroke="#262626" stroke-width="1.25" stroke-linejoin="round"/>
<text x="1516.1" y="938.3" font-size="15.3" text-anchor="start" fill="#000">enrichment</text>
<rect x="1598.6" y="924.5" width="17" height="16.7" fill="#bebebe" stroke="#262626" stroke-width="1.25" stroke-linejoin="round"/>
<text x="1622.4" y="938.3" font-size="15.3" text-anchor="start" fill="#000">ns</text>
<text x="1320.5" y="507.1" font-size="56" text-anchor="start" fill="#000">g</text>
<rect x="156.4" y="1056.55" width="8.98" height="13.5" fill="#bebebe" stroke="#262626" stroke-width="1.25" stroke-linejoin="round"/>
<rect x="147.12" y="1071.57" width="9.28" height="13.5" fill="#bebebe" stroke="#262626" stroke-width="1.25" stroke-linejoin="round"/>
<rect x="146.82" y="1086.59" width="9.58" height="13.5" fill="#bebebe" stroke="#262626" stroke-width="1.25" stroke-linejoin="round"/>
<rect x="128.72" y="1101.61" width="27.68" height="13.5" fill="#bebebe" stroke="#262626" stroke-width="1.25" stroke-linejoin="round"/>
<rect x="156.4" y="1116.63" width="2.68" height="13.5" fill="#bebebe" stroke="#262626" stroke-width="1.25" stroke-linejoin="round"/>
<rect x="156.4" y="1131.65" width="39.97" height="13.5" fill="#bebebe" stroke="#262626" stroke-width="1.25" stroke-linejoin="round"/>
<rect x="135.03" y="1146.67" width="21.38" height="13.5" fill="#bebebe" stroke="#262626" stroke-width="1.25" stroke-linejoin="round"/>
<rect x="120.73" y="1161.69" width="35.67" height="13.5" fill="#bebebe" stroke="#262626" stroke-width="1.25" stroke-linejoin="round"/>
<rect x="156.4" y="1176.71" width="46.38" height="13.5" fill="#bebebe" stroke="#262626" stroke-width="1.25" stroke-linejoin="round"/>
<rect x="111.83" y="1191.73" width="44.58" height="13.5" fill="#bebebe" stroke="#262626" stroke-width="1.25" stroke-linejoin="round"/>
<rect x="146.82" y="1206.75" width="9.58" height="13.5" fill="#bebebe" stroke="#262626" stroke-width="1.25" stroke-linejoin="round"/>
<rect x="110.83" y="1221.77" width="45.58" height="13.5" fill="#bebebe" stroke="#262626" stroke-width="1.25" stroke-linejoin="round"/>
<rect x="117.13" y="1236.79" width="39.27" height="13.5" fill="#bebebe" stroke="#262626" stroke-width="1.25" stroke-linejoin="round"/>
<rect x="146.32" y="1251.81" width="10.08" height="13.5" fill="#bebebe" stroke="#262626" stroke-width="1.25" stroke-linejoin="round"/>
<rect x="140.32" y="1266.83" width="16.08" height="13.5" fill="#bebebe" stroke="#262626" stroke-width="1.25" stroke-linejoin="round"/>
<rect x="147.12" y="1281.85" width="9.28" height="13.5" fill="#bebebe" stroke="#262626" stroke-width="1.25" stroke-linejoin="round"/>
<rect x="134.82" y="1296.87" width="21.58" height="13.5" fill="#bebebe" stroke="#262626" stroke-width="1.25" stroke-linejoin="round"/>
<rect x="156.4" y="1311.89" width="44.08" height="13.5" fill="#bebebe" stroke="#262626" stroke-width="1.25" stroke-linejoin="round"/>
<rect x="156.4" y="1326.91" width="14.58" height="13.5" fill="#bebebe" stroke="#262626" stroke-width="1.25" stroke-linejoin="round"/>
<rect x="124.93" y="1341.93" width="31.47" height="13.5" fill="#bebebe" stroke="#262626" stroke-width="1.25" stroke-linejoin="round"/>
<rect x="156.4" y="1356.95" width="30.18" height="13.5" fill="#bebebe" stroke="#262626" stroke-width="1.25" stroke-linejoin="round"/>
<rect x="156.4" y="1371.97" width="20.78" height="13.5" fill="#bebebe" stroke="#262626" stroke-width="1.25" stroke-linejoin="round"/>
<rect x="156.4" y="1386.99" width="93.78" height="13.5" fill="#ffa500" stroke="#262626" stroke-width="1.25" stroke-linejoin="round"/>
<line x1="156.4" y1="1054" x2="156.4" y2="1402.4" stroke="#262626" stroke-width="1.25" stroke-linecap="butt"/>
<text x="250.5" y="1398.49" font-size="12.4" text-anchor="middle" fill="#000">1.12e-04</text>
<line x1="57.3" y1="1402.5" x2="317.1" y2="1402.5" stroke="#333333" stroke-width="1.4" stroke-linecap="butt"/>
<line x1="69" y1="1402.5" x2="69" y2="1405.8" stroke="#333333" stroke-width="1.2" stroke-linecap="butt"/>
<text x="69" y="1419.5" font-size="15.3" text-anchor="middle" fill="#000">-1</text>
<line x1="156.4" y1="1402.5" x2="156.4" y2="1405.8" stroke="#333333" stroke-width="1.2" stroke-linecap="butt"/>
<text x="156.4" y="1419.5" font-size="15.3" text-anchor="middle" fill="#000">0</text>
<line x1="243.8" y1="1402.5" x2="243.8" y2="1405.8" stroke="#333333" stroke-width="1.2" stroke-linecap="butt"/>
<text x="243.8" y="1419.5" font-size="15.3" text-anchor="middle" fill="#000">1</text>
<text x="187.2" y="1438.2" font-size="17.4" text-anchor="middle" fill="#000">log2(OR)</text>
<text x="51.5" y="1069.4" font-size="15.3" text-anchor="end" fill="#000">1</text>
<text x="51.5" y="1084.42" font-size="15.3" text-anchor="end" fill="#000">2</text>
<text x="51.5" y="1099.44" font-size="15.3" text-anchor="end" fill="#000">3</text>
<text x="51.5" y="1114.46" font-size="15.3" text-anchor="end" fill="#000">4</text>
<text x="51.5" y="1129.48" font-size="15.3" text-anchor="end" fill="#000">5</text>
<text x="51.5" y="1144.5" font-size="15.3" text-anchor="end" fill="#000">6</text>
<text x="51.5" y="1159.52" font-size="15.3" text-anchor="end" fill="#000">7</text>
<text x="51.5" y="1174.54" font-size="15.3" text-anchor="end" fill="#000">8</text>
<text x="51.5" y="1189.56" font-size="15.3" text-anchor="end" fill="#000">9</text>
<text x="51.5" y="1204.58" font-size="15.3" text-anchor="end" fill="#000">10</text>
<text x="51.5" y="1219.6" font-size="15.3" text-anchor="end" fill="#000">11</text>
<text x="51.5" y="1234.62" font-size="15.3" text-anchor="end" fill="#000">12</text>
<text x="51.5" y="1249.64" font-size="15.3" text-anchor="end" fill="#000">13</text>
<text x="51.5" y="1264.66" font-size="15.3" text-anchor="end" fill="#000">14</text>
<text x="51.5" y="1279.68" font-size="15.3" text-anchor="end" fill="#000">15</text>
<text x="51.5" y="1294.7" font-size="15.3" text-anchor="end" fill="#000">16</text>
<text x="51.5" y="1309.72" font-size="15.3" text-anchor="end" fill="#000">17</text>
<text x="51.5" y="1324.74" font-size="15.3" text-anchor="end" fill="#000">18</text>
<text x="51.5" y="1339.76" font-size="15.3" text-anchor="end" fill="#000">19</text>
<text x="51.5" y="1354.78" font-size="15.3" text-anchor="end" fill="#000">20</text>
<text x="51.5" y="1369.8" font-size="15.3" text-anchor="end" fill="#000">21</text>
<text x="51.5" y="1384.82" font-size="15.3" text-anchor="end" fill="#000">22</text>
<text x="51.5" y="1399.84" font-size="15.3" text-anchor="end" fill="#000">X</text>
<text x="28.6" y="1229" font-size="17.4" text-anchor="middle" fill="#000" transform="rotate(-90 28.6 1229)">Chromosome</text>
<text x="187.2" y="1042.95" font-size="23.93" text-anchor="middle" fill="#000">Seizures</text>
<rect x="71.2" y="1460.5" width="17" height="16.7" fill="#7c7c7c" stroke="#262626" stroke-width="1.25" stroke-linejoin="round"/>
<text x="94.7" y="1474.3" font-size="15.3" text-anchor="start" fill="#000">depletion</text>
<rect x="164" y="1460.5" width="17" height="16.7" fill="#ffa500" stroke="#262626" stroke-width="1.25" stroke-linejoin="round"/>
<text x="187.6" y="1474.3" font-size="15.3" text-anchor="start" fill="#000">enrichment</text>
<rect x="270.1" y="1460.5" width="17" height="16.7" fill="#bebebe" stroke="#262626" stroke-width="1.25" stroke-linejoin="round"/>
<text x="293.9" y="1474.3" font-size="15.3" text-anchor="start" fill="#000">ns</text>
<text x="-3.7" y="1044.75" font-size="63" text-anchor="start" fill="#000">i</text>
<rect x="813.03" y="1056.55" width="6.17" height="13.5" fill="#bebebe" stroke="#262626" stroke-width="1.25" stroke-linejoin="round"/>
<rect x="819.2" y="1071.57" width="3.97" height="13.5" fill="#bebebe" stroke="#262626" stroke-width="1.25" stroke-linejoin="round"/>
<rect x="795.03" y="1086.59" width="24.17" height="13.5" fill="#bebebe" stroke="#262626" stroke-width="1.25" stroke-linejoin="round"/>
<rect x="818" y="1101.61" width="1.2" height="13.5" fill="#bebebe" stroke="#262626" stroke-width="1.25" stroke-linejoin="round"/>
<rect x="814.93" y="1116.63" width="4.27" height="13.5" fill="#bebebe" stroke="#262626" stroke-width="1.25" stroke-linejoin="round"/>
<rect x="819.2" y="1131.65" width="0.5" height="13.5" fill="#bebebe" stroke="#262626" stroke-width="1.25" stroke-linejoin="round"/>
<rect x="819.2" y="1146.67" width="26.97" height="13.5" fill="#bebebe" stroke="#262626" stroke-width="1.25" stroke-linejoin="round"/>
<rect x="817.83" y="1161.69" width="1.38" height="13.5" fill="#bebebe" stroke="#262626" stroke-width="1.25" stroke-linejoin="round"/>
<rect x="819.2" y="1176.71" width="32.47" height="13.5" fill="#bebebe" stroke="#262626" stroke-width="1.25" stroke-linejoin="round"/>
<rect x="785.93" y="1191.73" width="33.27" height="13.5" fill="#bebebe" stroke="#262626" stroke-width="1.25" stroke-linejoin="round"/>
<rect x="814.93" y="1206.75" width="4.27" height="13.5" fill="#bebebe" stroke="#262626" stroke-width="1.25" stroke-linejoin="round"/>
<rect x="749.63" y="1221.77" width="69.57" height="13.5" fill="#bebebe" stroke="#262626" stroke-width="1.25" stroke-linejoin="round"/>
<rect x="785.93" y="1236.79" width="33.27" height="13.5" fill="#bebebe" stroke="#262626" stroke-width="1.25" stroke-linejoin="round"/>
<rect x="819.2" y="1251.81" width="5.27" height="13.5" fill="#bebebe" stroke="#262626" stroke-width="1.25" stroke-linejoin="round"/>
<rect x="813.73" y="1266.83" width="5.47" height="13.5" fill="#bebebe" stroke="#262626" stroke-width="1.25" stroke-linejoin="round"/>
<rect x="801.13" y="1281.85" width="18.07" height="13.5" fill="#bebebe" stroke="#262626" stroke-width="1.25" stroke-linejoin="round"/>
<rect x="819.2" y="1296.87" width="13.27" height="13.5" fill="#bebebe" stroke="#262626" stroke-width="1.25" stroke-linejoin="round"/>
<rect x="819.2" y="1311.89" width="13.27" height="13.5" fill="#bebebe" stroke="#262626" stroke-width="1.25" stroke-linejoin="round"/>
<rect x="819.2" y="1326.91" width="26.07" height="13.5" fill="#bebebe" stroke="#262626" stroke-width="1.25" stroke-linejoin="round"/>
<rect x="736.83" y="1341.93" width="82.38" height="13.5" fill="#bebebe" stroke="#262626" stroke-width="1.25" stroke-linejoin="round"/>
<rect x="819.2" y="1356.95" width="2.17" height="13.5" fill="#bebebe" stroke="#262626" stroke-width="1.25" stroke-linejoin="round"/>
<rect x="787.03" y="1371.97" width="32.17" height="13.5" fill="#bebebe" stroke="#262626" stroke-width="1.25" stroke-linejoin="round"/>
<rect x="819.2" y="1386.99" width="85.88" height="13.5" fill="#ffa500" stroke="#262626" stroke-width="1.25" stroke-linejoin="round"/>
<line x1="819.2" y1="1054" x2="819.2" y2="1402.4" stroke="#262626" stroke-width="1.25" stroke-linecap="butt"/>
<text x="905.4" y="1398.49" font-size="12.4" text-anchor="middle" fill="#000">5.59e-03</text>
<line x1="720.1" y1="1402.5" x2="979.9" y2="1402.5" stroke="#333333" stroke-width="1.4" stroke-linecap="butt"/>
<line x1="731.8" y1="1402.5" x2="731.8" y2="1405.8" stroke="#333333" stroke-width="1.2" stroke-linecap="butt"/>
<text x="731.8" y="1419.5" font-size="15.3" text-anchor="middle" fill="#000">-1</text>
<line x1="819.2" y1="1402.5" x2="819.2" y2="1405.8" stroke="#333333" stroke-width="1.2" stroke-linecap="butt"/>
<text x="819.2" y="1419.5" font-size="15.3" text-anchor="middle" fill="#000">0</text>
<line x1="906.6" y1="1402.5" x2="906.6" y2="1405.8" stroke="#333333" stroke-width="1.2" stroke-linecap="butt"/>
<text x="906.6" y="1419.5" font-size="15.3" text-anchor="middle" fill="#000">1</text>
<text x="850" y="1438.2" font-size="17.4" text-anchor="middle" fill="#000">log2(OR)</text>
<text x="714.3" y="1069.4" font-size="15.3" text-anchor="end" fill="#000">1</text>
<text x="714.3" y="1084.42" font-size="15.3" text-anchor="end" fill="#000">2</text>
<text x="714.3" y="1099.44" font-size="15.3" text-anchor="end" fill="#000">3</text>
<text x="714.3" y="1114.46" font-size="15.3" text-anchor="end" fill="#000">4</text>
<text x="714.3" y="1129.48" font-size="15.3" text-anchor="end" fill="#000">5</text>
<text x="714.3" y="1144.5" font-size="15.3" text-anchor="end" fill="#000">6</text>
<text x="714.3" y="1159.52" font-size="15.3" text-anchor="end" fill="#000">7</text>
<text x="714.3" y="1174.54" font-size="15.3" text-anchor="end" fill="#000">8</text>
<text x="714.3" y="1189.56" font-size="15.3" text-anchor="end" fill="#000">9</text>
<text x="714.3" y="1204.58" font-size="15.3" text-anchor="end" fill="#000">10</text>
<text x="714.3" y="1219.6" font-size="15.3" text-anchor="end" fill="#000">11</text>
<text x="714.3" y="1234.62" font-size="15.3" text-anchor="end" fill="#000">12</text>
<text x="714.3" y="1249.64" font-size="15.3" text-anchor="end" fill="#000">13</text>
<text x="714.3" y="1264.66" font-size="15.3" text-anchor="end" fill="#000">14</text>
<text x="714.3" y="1279.68" font-size="15.3" text-anchor="end" fill="#000">15</text>
<text x="714.3" y="1294.7" font-size="15.3" text-anchor="end" fill="#000">16</text>
<text x="714.3" y="1309.72" font-size="15.3" text-anchor="end" fill="#000">17</text>
<text x="714.3" y="1324.74" font-size="15.3" text-anchor="end" fill="#000">18</text>
<text x="714.3" y="1339.76" font-size="15.3" text-anchor="end" fill="#000">19</text>
<text x="714.3" y="1354.78" font-size="15.3" text-anchor="end" fill="#000">20</text>
<text x="714.3" y="1369.8" font-size="15.3" text-anchor="end" fill="#000">21</text>
<text x="714.3" y="1384.82" font-size="15.3" text-anchor="end" fill="#000">22</text>
<text x="714.3" y="1399.84" font-size="15.3" text-anchor="end" fill="#000">X</text>
<text x="691.4" y="1229" font-size="17.4" text-anchor="middle" fill="#000" transform="rotate(-90 691.4 1229)">Chromosome</text>
<text x="850" y="1042.95" font-size="23.93" text-anchor="middle" fill="#000">Language impairment</text>
<rect x="734" y="1460.5" width="17" height="16.7" fill="#7c7c7c" stroke="#262626" stroke-width="1.25" stroke-linejoin="round"/>
<text x="757.5" y="1474.3" font-size="15.3" text-anchor="start" fill="#000">depletion</text>
<rect x="826.8" y="1460.5" width="17" height="16.7" fill="#ffa500" stroke="#262626" stroke-width="1.25" stroke-linejoin="round"/>
<text x="850.4" y="1474.3" font-size="15.3" text-anchor="start" fill="#000">enrichment</text>
<rect x="932.9" y="1460.5" width="17" height="16.7" fill="#bebebe" stroke="#262626" stroke-width="1.25" stroke-linejoin="round"/>
<text x="956.7" y="1474.3" font-size="15.3" text-anchor="start" fill="#000">ns</text>
<text x="649.8" y="1044.3" font-size="56" text-anchor="start" fill="#000">k</text>
<rect x="1474.83" y="1056.55" width="10.08" height="13.5" fill="#bebebe" stroke="#262626" stroke-width="1.25" stroke-linejoin="round"/>
<rect x="1484.9" y="1071.57" width="33.17" height="13.5" fill="#bebebe" stroke="#262626" stroke-width="1.25" stroke-linejoin="round"/>
<rect x="1484.9" y="1086.59" width="7.17" height="13.5" fill="#bebebe" stroke="#262626" stroke-width="1.25" stroke-linejoin="round"/>
<rect x="1434.03" y="1101.61" width="50.88" height="13.5" fill="#bebebe" stroke="#262626" stroke-width="1.25" stroke-linejoin="round"/>
<rect x="1484.9" y="1116.63" width="28.88" height="13.5" fill="#bebebe" stroke="#262626" stroke-width="1.25" stroke-linejoin="round"/>
<rect x="1484.9" y="1131.65" width="12.27" height="13.5" fill="#bebebe" stroke="#262626" stroke-width="1.25" stroke-linejoin="round"/>
<rect x="1475.93" y="1146.67" width="8.97" height="13.5" fill="#bebebe" stroke="#262626" stroke-width="1.25" stroke-linejoin="round"/>
<rect x="1429.53" y="1161.69" width="55.38" height="13.5" fill="#bebebe" stroke="#262626" stroke-width="1.25" stroke-linejoin="round"/>
<rect x="1484.9" y="1176.71" width="8.47" height="13.5" fill="#bebebe" stroke="#262626" stroke-width="1.25" stroke-linejoin="round"/>
<rect x="1473.93" y="1191.73" width="10.97" height="13.5" fill="#bebebe" stroke="#262626" stroke-width="1.25" stroke-linejoin="round"/>
<rect x="1484.9" y="1206.75" width="1.17" height="13.5" fill="#bebebe" stroke="#262626" stroke-width="1.25" stroke-linejoin="round"/>
<rect x="1437.63" y="1221.77" width="47.27" height="13.5" fill="#bebebe" stroke="#262626" stroke-width="1.25" stroke-linejoin="round"/>
<rect x="1476.43" y="1236.79" width="8.47" height="13.5" fill="#bebebe" stroke="#262626" stroke-width="1.25" stroke-linejoin="round"/>
<rect x="1484.9" y="1251.81" width="41.47" height="13.5" fill="#bebebe" stroke="#262626" stroke-width="1.25" stroke-linejoin="round"/>
<rect x="1484.9" y="1266.83" width="26.38" height="13.5" fill="#bebebe" stroke="#262626" stroke-width="1.25" stroke-linejoin="round"/>
<rect x="1484.6" y="1281.85" width="0.3" height="13.5" fill="#bebebe" stroke="#262626" stroke-width="1.25" stroke-linejoin="round"/>
<rect x="1474.93" y="1296.87" width="9.97" height="13.5" fill="#bebebe" stroke="#262626" stroke-width="1.25" stroke-linejoin="round"/>
<rect x="1472.93" y="1311.89" width="11.97" height="13.5" fill="#bebebe" stroke="#262626" stroke-width="1.25" stroke-linejoin="round"/>
<rect x="1484.9" y="1326.91" width="8.97" height="13.5" fill="#bebebe" stroke="#262626" stroke-width="1.25" stroke-linejoin="round"/>
<rect x="1443.13" y="1341.93" width="41.77" height="13.5" fill="#bebebe" stroke="#262626" stroke-width="1.25" stroke-linejoin="round"/>
<rect x="1459.23" y="1356.95" width="25.67" height="13.5" fill="#bebebe" stroke="#262626" stroke-width="1.25" stroke-linejoin="round"/>
<rect x="1484.9" y="1371.97" width="15.38" height="13.5" fill="#bebebe" stroke="#262626" stroke-width="1.25" stroke-linejoin="round"/>
<rect x="1484.9" y="1386.99" width="42.58" height="13.5" fill="#bebebe" stroke="#262626" stroke-width="1.25" stroke-linejoin="round"/>
<line x1="1484.9" y1="1054" x2="1484.9" y2="1402.4" stroke="#262626" stroke-width="1.25" stroke-linecap="butt"/>
<line x1="1385.8" y1="1402.5" x2="1645.6" y2="1402.5" stroke="#333333" stroke-width="1.4" stroke-linecap="butt"/>
<line x1="1397.5" y1="1402.5" x2="1397.5" y2="1405.8" stroke="#333333" stroke-width="1.2" stroke-linecap="butt"/>
<text x="1397.5" y="1419.5" font-size="15.3" text-anchor="middle" fill="#000">-1</text>
<line x1="1484.9" y1="1402.5" x2="1484.9" y2="1405.8" stroke="#333333" stroke-width="1.2" stroke-linecap="butt"/>
<text x="1484.9" y="1419.5" font-size="15.3" text-anchor="middle" fill="#000">0</text>
<line x1="1572.3" y1="1402.5" x2="1572.3" y2="1405.8" stroke="#333333" stroke-width="1.2" stroke-linecap="butt"/>
<text x="1572.3" y="1419.5" font-size="15.3" text-anchor="middle" fill="#000">1</text>
<text x="1515.7" y="1438.2" font-size="17.4" text-anchor="middle" fill="#000">log2(OR)</text>
<text x="1380" y="1069.4" font-size="15.3" text-anchor="end" fill="#000">1</text>
<text x="1380" y="1084.42" font-size="15.3" text-anchor="end" fill="#000">2</text>
<text x="1380" y="1099.44" font-size="15.3" text-anchor="end" fill="#000">3</text>
<text x="1380" y="1114.46" font-size="15.3" text-anchor="end" fill="#000">4</text>
<text x="1380" y="1129.48" font-size="15.3" text-anchor="end" fill="#000">5</text>
<text x="1380" y="1144.5" font-size="15.3" text-anchor="end" fill="#000">6</text>
<text x="1380" y="1159.52" font-size="15.3" text-anchor="end" fill="#000">7</text>
<text x="1380" y="1174.54" font-size="15.3" text-anchor="end" fill="#000">8</text>
<text x="1380" y="1189.56" font-size="15.3" text-anchor="end" fill="#000">9</text>
<text x="1380" y="1204.58" font-size="15.3" text-anchor="end" fill="#000">10</text>
<text x="1380" y="1219.6" font-size="15.3" text-anchor="end" fill="#000">11</text>
<text x="1380" y="1234.62" font-size="15.3" text-anchor="end" fill="#000">12</text>
<text x="1380" y="1249.64" font-size="15.3" text-anchor="end" fill="#000">13</text>
<text x="1380" y="1264.66" font-size="15.3" text-anchor="end" fill="#000">14</text>
<text x="1380" y="1279.68" font-size="15.3" text-anchor="end" fill="#000">15</text>
<text x="1380" y="1294.7" font-size="15.3" text-anchor="end" fill="#000">16</text>
<text x="1380" y="1309.72" font-size="15.3" text-anchor="end" fill="#000">17</text>
<text x="1380" y="1324.74" font-size="15.3" text-anchor="end" fill="#000">18</text>
<text x="1380" y="1339.76" font-size="15.3" text-anchor="end" fill="#000">19</text>
<text x="1380" y="1354.78" font-size="15.3" text-anchor="end" fill="#000">20</text>
<text x="1380" y="1369.8" font-size="15.3" text-anchor="end" fill="#000">21</text>
<text x="1380" y="1384.82" font-size="15.3" text-anchor="end" fill="#000">22</text>
<text x="1380" y="1399.84" font-size="15.3" text-anchor="end" fill="#000">X</text>
<text x="1357.1" y="1229" font-size="17.4" text-anchor="middle" fill="#000" transform="rotate(-90 1357.1 1229)">Chromosome</text>
<text x="1515.7" y="1042.95" font-size="23.93" text-anchor="middle" fill="#000">Motor impairment</text>
<rect x="1399.7" y="1460.5" width="17" height="16.7" fill="#7c7c7c" stroke="#262626" stroke-width="1.25" stroke-linejoin="round"/>
<text x="1423.2" y="1474.3" font-size="15.3" text-anchor="start" fill="#000">depletion</text>
<rect x="1492.5" y="1460.5" width="17" height="16.7" fill="#ffa500" stroke="#262626" stroke-width="1.25" stroke-linejoin="round"/>
<text x="1516.1" y="1474.3" font-size="15.3" text-anchor="start" fill="#000">enrichment</text>
<rect x="1598.6" y="1460.5" width="17" height="16.7" fill="#bebebe" stroke="#262626" stroke-width="1.25" stroke-linejoin="round"/>
<text x="1622.4" y="1474.3" font-size="15.3" text-anchor="start" fill="#000">ns</text>
<text x="1321.7" y="1044.3" font-size="56" text-anchor="start" fill="#000">m</text>
<circle cx="458.3" cy="592.7" r="5.15" fill="#bebebe" stroke="#262626" stroke-width="1.25"/>
<circle cx="458.3" cy="619.2" r="5.15" fill="#bebebe" stroke="#262626" stroke-width="1.25"/>
<circle cx="437.18" cy="645.3" r="5.15" fill="#bebebe" stroke="#262626" stroke-width="1.25"/>
<circle cx="447.74" cy="645.3" r="5.15" fill="#bebebe" stroke="#262626" stroke-width="1.25"/>
<circle cx="458.3" cy="645.3" r="5.15" fill="#bebebe" stroke="#262626" stroke-width="1.25"/>
<circle cx="468.86" cy="645.3" r="5.15" fill="#bebebe" stroke="#262626" stroke-width="1.25"/>
<circle cx="479.42" cy="645.3" r="5.15" fill="#bebebe" stroke="#262626" stroke-width="1.25"/>
<circle cx="442.46" cy="671.7" r="5.15" fill="#bebebe" stroke="#262626" stroke-width="1.25"/>
<circle cx="453.02" cy="671.7" r="5.15" fill="#bebebe" stroke="#262626" stroke-width="1.25"/>
<circle cx="463.58" cy="671.7" r="5.15" fill="#bebebe" stroke="#262626" stroke-width="1.25"/>
<circle cx="474.14" cy="671.7" r="5.15" fill="#bebebe" stroke="#262626" stroke-width="1.25"/>
<circle cx="437.18" cy="698" r="5.15" fill="#bebebe" stroke="#262626" stroke-width="1.25"/>
<circle cx="447.74" cy="698" r="5.15" fill="#bebebe" stroke="#262626" stroke-width="1.25"/>
<circle cx="458.3" cy="698" r="5.15" fill="#bebebe" stroke="#262626" stroke-width="1.25"/>
<circle cx="468.86" cy="698" r="5.15" fill="#bebebe" stroke="#262626" stroke-width="1.25"/>
<circle cx="479.42" cy="698" r="5.15" fill="#bebebe" stroke="#262626" stroke-width="1.25"/>
<circle cx="442.46" cy="724.5" r="5.15" fill="#bebebe" stroke="#262626" stroke-width="1.25"/>
<circle cx="453.02" cy="724.5" r="5.15" fill="#bebebe" stroke="#262626" stroke-width="1.25"/>
<circle cx="463.58" cy="724.5" r="5.15" fill="#bebebe" stroke="#262626" stroke-width="1.25"/>
<circle cx="474.14" cy="724.5" r="5.15" fill="#bebebe" stroke="#262626" stroke-width="1.25"/>
<circle cx="458.3" cy="751" r="5.15" fill="#bebebe" stroke="#262626" stroke-width="1.25"/>
<circle cx="458.3" cy="856.6" r="5.15" fill="#7c7c7c" stroke="#262626" stroke-width="1.25"/>
<circle cx="588.5" cy="540.1" r="5.15" fill="#ffa500" stroke="#262626" stroke-width="1.25"/>
<line x1="380.3" y1="518.6" x2="380.3" y2="878.6" stroke="#333333" stroke-width="1.4" stroke-linecap="butt"/>
<line x1="379.6" y1="877.9" x2="666.6" y2="877.9" stroke="#333333" stroke-width="1.4" stroke-linecap="butt"/>
<line x1="377.1" y1="645.2" x2="380.3" y2="645.2" stroke="#333333" stroke-width="1.2" stroke-linecap="butt"/>
<text x="374.7" y="651.1" font-size="15.3" text-anchor="end" fill="#000">0.20</text>
<line x1="377.1" y1="776.9" x2="380.3" y2="776.9" stroke="#333333" stroke-width="1.2" stroke-linecap="butt"/>
<text x="374.7" y="782.8" font-size="15.3" text-anchor="end" fill="#000">0.15</text>
<line x1="458.3" y1="877.9" x2="458.3" y2="881.1" stroke="#333333" stroke-width="1.2" stroke-linecap="butt"/>
<text x="458.3" y="894.8" font-size="15.3" text-anchor="middle" fill="#000">autosomes</text>
<line x1="588.5" y1="877.9" x2="588.5" y2="881.1" stroke="#333333" stroke-width="1.2" stroke-linecap="butt"/>
<text x="588.5" y="894.8" font-size="15.3" text-anchor="middle" fill="#000">chrX</text>
<text x="338.5" y="698.4" font-size="17.4" text-anchor="middle" fill="#000" transform="rotate(-90 338.5 698.4)">Fraction of protein coding genes</text>
<text x="523.45" y="507.7" font-size="23.93" text-anchor="middle" fill="#000">Clinical Synopsis</text>
<circle cx="408" cy="929" r="5.15" fill="#7c7c7c" stroke="#262626" stroke-width="1.25"/>
<text x="427.2" y="934.8" font-size="15.3" text-anchor="start" fill="#000">depletion</text>
<circle cx="508.3" cy="929" r="5.15" fill="#ffa500" stroke="#262626" stroke-width="1.25"/>
<text x="527.5" y="934.8" font-size="15.3" text-anchor="start" fill="#000">enrichment</text>
<circle cx="622.6" cy="929" r="5.15" fill="#bebebe" stroke="#262626" stroke-width="1.25"/>
<text x="641.8" y="934.8" font-size="15.3" text-anchor="start" fill="#000">ns</text>
<text x="311.97" y="507" font-size="56" text-anchor="start" fill="#000">d</text>
<circle cx="1117.4" cy="551" r="5.15" fill="#bebebe" stroke="#262626" stroke-width="1.25"/>
<circle cx="1106.5" cy="582" r="5.15" fill="#bebebe" stroke="#262626" stroke-width="1.25"/>
<circle cx="1117.4" cy="582" r="5.15" fill="#bebebe" stroke="#262626" stroke-width="1.25"/>
<circle cx="1128.3" cy="582" r="5.15" fill="#bebebe" stroke="#262626" stroke-width="1.25"/>
<circle cx="1101.05" cy="598.1" r="5.15" fill="#bebebe" stroke="#262626" stroke-width="1.25"/>
<circle cx="1111.95" cy="598.1" r="5.15" fill="#bebebe" stroke="#262626" stroke-width="1.25"/>
<circle cx="1122.85" cy="598.1" r="5.15" fill="#bebebe" stroke="#262626" stroke-width="1.25"/>
<circle cx="1133.75" cy="598.1" r="5.15" fill="#bebebe" stroke="#262626" stroke-width="1.25"/>
<circle cx="1101.05" cy="608.5" r="5.15" fill="#bebebe" stroke="#262626" stroke-width="1.25"/>
<circle cx="1111.95" cy="608.5" r="5.15" fill="#bebebe" stroke="#262626" stroke-width="1.25"/>
<circle cx="1122.85" cy="608.5" r="5.15" fill="#bebebe" stroke="#262626" stroke-width="1.25"/>
<circle cx="1133.75" cy="608.5" r="5.15" fill="#bebebe" stroke="#262626" stroke-width="1.25"/>
<circle cx="1079.25" cy="620.7" r="5.15" fill="#bebebe" stroke="#262626" stroke-width="1.25"/>
<circle cx="1090.15" cy="620.7" r="5.15" fill="#bebebe" stroke="#262626" stroke-width="1.25"/>
<circle cx="1101.05" cy="620.7" r="5.15" fill="#bebebe" stroke="#262626" stroke-width="1.25"/>
<circle cx="1111.95" cy="620.7" r="5.15" fill="#bebebe" stroke="#262626" stroke-width="1.25"/>
<circle cx="1122.85" cy="620.7" r="5.15" fill="#bebebe" stroke="#262626" stroke-width="1.25"/>
<circle cx="1133.75" cy="620.7" r="5.15" fill="#bebebe" stroke="#262626" stroke-width="1.25"/>
<circle cx="1144.65" cy="620.7" r="5.15" fill="#bebebe" stroke="#262626" stroke-width="1.25"/>
<circle cx="1155.55" cy="620.7" r="5.15" fill="#bebebe" stroke="#262626" stroke-width="1.25"/>
<circle cx="1111.95" cy="635" r="5.15" fill="#bebebe" stroke="#262626" stroke-width="1.25"/>
<circle cx="1122.85" cy="635" r="5.15" fill="#bebebe" stroke="#262626" stroke-width="1.25"/>
<circle cx="1251.4" cy="546.9" r="5.15" fill="#ffa500" stroke="#262626" stroke-width="1.25"/>
<line x1="1036.9" y1="518.6" x2="1036.9" y2="878.6" stroke="#333333" stroke-width="1.4" stroke-linecap="butt"/>
<line x1="1036.2" y1="877.9" x2="1331.5" y2="877.9" stroke="#333333" stroke-width="1.4" stroke-linecap="butt"/>
<line x1="1033.7" y1="534.5" x2="1036.9" y2="534.5" stroke="#333333" stroke-width="1.2" stroke-linecap="butt"/>
<text x="1031.3" y="540.4" font-size="15.3" text-anchor="end" fill="#000">0.8</text>
<line x1="1033.7" y1="616.27" x2="1036.9" y2="616.27" stroke="#333333" stroke-width="1.2" stroke-linecap="butt"/>
<text x="1031.3" y="622.17" font-size="15.3" text-anchor="end" fill="#000">0.6</text>
<line x1="1033.7" y1="698.04" x2="1036.9" y2="698.04" stroke="#333333" stroke-width="1.2" stroke-linecap="butt"/>
<text x="1031.3" y="703.94" font-size="15.3" text-anchor="end" fill="#000">0.4</text>
<line x1="1033.7" y1="779.81" x2="1036.9" y2="779.81" stroke="#333333" stroke-width="1.2" stroke-linecap="butt"/>
<text x="1031.3" y="785.71" font-size="15.3" text-anchor="end" fill="#000">0.2</text>
<line x1="1033.7" y1="861.58" x2="1036.9" y2="861.58" stroke="#333333" stroke-width="1.2" stroke-linecap="butt"/>
<text x="1031.3" y="867.48" font-size="15.3" text-anchor="end" fill="#000">0.0</text>
<line x1="1117.4" y1="877.9" x2="1117.4" y2="881.1" stroke="#333333" stroke-width="1.2" stroke-linecap="butt"/>
<text x="1117.4" y="894.8" font-size="15.3" text-anchor="middle" fill="#000">autosomes</text>
<line x1="1251.4" y1="877.9" x2="1251.4" y2="881.1" stroke="#333333" stroke-width="1.2" stroke-linecap="butt"/>
<text x="1251.4" y="894.8" font-size="15.3" text-anchor="middle" fill="#000">chrX</text>
<text x="1003.75" y="698.4" font-size="17.4" text-anchor="middle" fill="#000" transform="rotate(-90 1003.75 698.4)">Fraction of confirmed CS-genes</text>
<text x="1184.2" y="507.7" font-size="23.93" text-anchor="middle" fill="#000">Neurologic terms</text>
<circle cx="1069.2" cy="929" r="5.15" fill="#7c7c7c" stroke="#262626" stroke-width="1.25"/>
<text x="1088.4" y="934.8" font-size="15.3" text-anchor="start" fill="#000">depletion</text>
<circle cx="1169.3" cy="929" r="5.15" fill="#ffa500" stroke="#262626" stroke-width="1.25"/>
<text x="1188.5" y="934.8" font-size="15.3" text-anchor="start" fill="#000">enrichment</text>
<circle cx="1283.3" cy="929" r="5.15" fill="#bebebe" stroke="#262626" stroke-width="1.25"/>
<text x="1302.5" y="934.8" font-size="15.3" text-anchor="start" fill="#000">ns</text>
<text x="982.2" y="507" font-size="56" text-anchor="start" fill="#000">f</text>
<circle cx="1780.8" cy="677.9" r="5.15" fill="#bebebe" stroke="#262626" stroke-width="1.25"/>
<circle cx="1775.35" cy="692.1" r="5.15" fill="#bebebe" stroke="#262626" stroke-width="1.25"/>
<circle cx="1786.25" cy="692.1" r="5.15" fill="#bebebe" stroke="#262626" stroke-width="1.25"/>
<circle cx="1769.9" cy="710.5" r="5.15" fill="#bebebe" stroke="#262626" stroke-width="1.25"/>
<circle cx="1780.8" cy="710.5" r="5.15" fill="#bebebe" stroke="#262626" stroke-width="1.25"/>
<circle cx="1791.7" cy="710.5" r="5.15" fill="#bebebe" stroke="#262626" stroke-width="1.25"/>
<circle cx="1759" cy="724.75" r="5.15" fill="#bebebe" stroke="#262626" stroke-width="1.25"/>
<circle cx="1769.9" cy="724.75" r="5.15" fill="#bebebe" stroke="#262626" stroke-width="1.25"/>
<circle cx="1780.8" cy="724.75" r="5.15" fill="#bebebe" stroke="#262626" stroke-width="1.25"/>
<circle cx="1791.7" cy="724.75" r="5.15" fill="#bebebe" stroke="#262626" stroke-width="1.25"/>
<circle cx="1802.6" cy="724.75" r="5.15" fill="#bebebe" stroke="#262626" stroke-width="1.25"/>
<circle cx="1753.55" cy="735.1" r="5.15" fill="#bebebe" stroke="#262626" stroke-width="1.25"/>
<circle cx="1764.45" cy="735.1" r="5.15" fill="#bebebe" stroke="#262626" stroke-width="1.25"/>
<circle cx="1775.35" cy="735.1" r="5.15" fill="#bebebe" stroke="#262626" stroke-width="1.25"/>
<circle cx="1786.25" cy="735.1" r="5.15" fill="#bebebe" stroke="#262626" stroke-width="1.25"/>
<circle cx="1797.15" cy="735.1" r="5.15" fill="#bebebe" stroke="#262626" stroke-width="1.25"/>
<circle cx="1808.05" cy="735.1" r="5.15" fill="#bebebe" stroke="#262626" stroke-width="1.25"/>
<circle cx="1759" cy="747.5" r="5.15" fill="#bebebe" stroke="#262626" stroke-width="1.25"/>
<circle cx="1769.9" cy="747.5" r="5.15" fill="#bebebe" stroke="#262626" stroke-width="1.25"/>
<circle cx="1780.8" cy="747.5" r="5.15" fill="#bebebe" stroke="#262626" stroke-width="1.25"/>
<circle cx="1791.7" cy="747.5" r="5.15" fill="#bebebe" stroke="#262626" stroke-width="1.25"/>
<circle cx="1802.6" cy="747.5" r="5.15" fill="#bebebe" stroke="#262626" stroke-width="1.25"/>
<circle cx="1914.6" cy="624.6" r="5.15" fill="#ffa500" stroke="#262626" stroke-width="1.25"/>
<line x1="1700.5" y1="518.6" x2="1700.5" y2="878.6" stroke="#333333" stroke-width="1.4" stroke-linecap="butt"/>
<line x1="1699.8" y1="877.9" x2="1995" y2="877.9" stroke="#333333" stroke-width="1.4" stroke-linecap="butt"/>
<line x1="1697.3" y1="534.5" x2="1700.5" y2="534.5" stroke="#333333" stroke-width="1.2" stroke-linecap="butt"/>
<text x="1694.9" y="540.4" font-size="15.3" text-anchor="end" fill="#000">0.8</text>
<line x1="1697.3" y1="616.27" x2="1700.5" y2="616.27" stroke="#333333" stroke-width="1.2" stroke-linecap="butt"/>
<text x="1694.9" y="622.17" font-size="15.3" text-anchor="end" fill="#000">0.6</text>
<line x1="1697.3" y1="698.04" x2="1700.5" y2="698.04" stroke="#333333" stroke-width="1.2" stroke-linecap="butt"/>
<text x="1694.9" y="703.94" font-size="15.3" text-anchor="end" fill="#000">0.4</text>
<line x1="1697.3" y1="779.81" x2="1700.5" y2="779.81" stroke="#333333" stroke-width="1.2" stroke-linecap="butt"/>
<text x="1694.9" y="785.71" font-size="15.3" text-anchor="end" fill="#000">0.2</text>
<line x1="1697.3" y1="861.58" x2="1700.5" y2="861.58" stroke="#333333" stroke-width="1.2" stroke-linecap="butt"/>
<text x="1694.9" y="867.48" font-size="15.3" text-anchor="end" fill="#000">0.0</text>
<line x1="1780.8" y1="877.9" x2="1780.8" y2="881.1" stroke="#333333" stroke-width="1.2" stroke-linecap="butt"/>
<text x="1780.8" y="894.8" font-size="15.3" text-anchor="middle" fill="#000">autosomes</text>
<line x1="1914.6" y1="877.9" x2="1914.6" y2="881.1" stroke="#333333" stroke-width="1.2" stroke-linecap="butt"/>
<text x="1914.6" y="894.8" font-size="15.3" text-anchor="middle" fill="#000">chrX</text>
<text x="1667.3" y="698.4" font-size="17.4" text-anchor="middle" fill="#000" transform="rotate(-90 1667.3 698.4)">Fraction of confirmed CS-genes</text>
<text x="1847.75" y="507.7" font-size="23.93" text-anchor="middle" fill="#000">Intellectual disability</text>
<circle cx="1732.4" cy="929" r="5.15" fill="#7c7c7c" stroke="#262626" stroke-width="1.25"/>
<text x="1751.6" y="934.8" font-size="15.3" text-anchor="start" fill="#000">depletion</text>
<circle cx="1832.7" cy="929" r="5.15" fill="#ffa500" stroke="#262626" stroke-width="1.25"/>
<text x="1851.9" y="934.8" font-size="15.3" text-anchor="start" fill="#000">enrichment</text>
<circle cx="1946.7" cy="929" r="5.15" fill="#bebebe" stroke="#262626" stroke-width="1.25"/>
<text x="1965.9" y="934.8" font-size="15.3" text-anchor="start" fill="#000">ns</text>
<text x="1645.55" y="507" font-size="56" text-anchor="start" fill="#000">h</text>
<circle cx="441.27" cy="1246.3" r="5.15" fill="#bebebe" stroke="#262626" stroke-width="1.25"/>
<circle cx="452.2" cy="1246.3" r="5.15" fill="#bebebe" stroke="#262626" stroke-width="1.25"/>
<circle cx="463.13" cy="1246.3" r="5.15" fill="#bebebe" stroke="#262626" stroke-width="1.25"/>
<circle cx="446.74" cy="1258.4" r="5.15" fill="#bebebe" stroke="#262626" stroke-width="1.25"/>
<circle cx="457.66" cy="1258.4" r="5.15" fill="#bebebe" stroke="#262626" stroke-width="1.25"/>
<circle cx="441.27" cy="1270.8" r="5.15" fill="#bebebe" stroke="#262626" stroke-width="1.25"/>
<circle cx="452.2" cy="1270.8" r="5.15" fill="#bebebe" stroke="#262626" stroke-width="1.25"/>
<circle cx="463.13" cy="1270.8" r="5.15" fill="#bebebe" stroke="#262626" stroke-width="1.25"/>
<circle cx="408.48" cy="1287.1" r="5.15" fill="#bebebe" stroke="#262626" stroke-width="1.25"/>
<circle cx="419.41" cy="1287.1" r="5.15" fill="#bebebe" stroke="#262626" stroke-width="1.25"/>
<circle cx="430.34" cy="1287.1" r="5.15" fill="#bebebe" stroke="#262626" stroke-width="1.25"/>
<circle cx="441.27" cy="1287.1" r="5.15" fill="#bebebe" stroke="#262626" stroke-width="1.25"/>
<circle cx="452.2" cy="1287.1" r="5.15" fill="#bebebe" stroke="#262626" stroke-width="1.25"/>
<circle cx="463.13" cy="1287.1" r="5.15" fill="#bebebe" stroke="#262626" stroke-width="1.25"/>
<circle cx="474.06" cy="1287.1" r="5.15" fill="#bebebe" stroke="#262626" stroke-width="1.25"/>
<circle cx="484.99" cy="1287.1" r="5.15" fill="#bebebe" stroke="#262626" stroke-width="1.25"/>
<circle cx="495.92" cy="1287.1" r="5.15" fill="#bebebe" stroke="#262626" stroke-width="1.25"/>
<circle cx="430.34" cy="1299.4" r="5.15" fill="#bebebe" stroke="#262626" stroke-width="1.25"/>
<circle cx="441.27" cy="1299.4" r="5.15" fill="#bebebe" stroke="#262626" stroke-width="1.25"/>
<circle cx="452.2" cy="1299.4" r="5.15" fill="#bebebe" stroke="#262626" stroke-width="1.25"/>
<circle cx="463.13" cy="1299.4" r="5.15" fill="#bebebe" stroke="#262626" stroke-width="1.25"/>
<circle cx="474.06" cy="1299.4" r="5.15" fill="#bebebe" stroke="#262626" stroke-width="1.25"/>
<circle cx="586.2" cy="1209.5" r="5.15" fill="#ffa500" stroke="#262626" stroke-width="1.25"/>
<line x1="371.7" y1="1054.6" x2="371.7" y2="1414.2" stroke="#333333" stroke-width="1.4" stroke-linecap="butt"/>
<line x1="371" y1="1413.5" x2="666.6" y2="1413.5" stroke="#333333" stroke-width="1.4" stroke-linecap="butt"/>
<line x1="368.5" y1="1070.5" x2="371.7" y2="1070.5" stroke="#333333" stroke-width="1.2" stroke-linecap="butt"/>
<text x="366.1" y="1075.9" font-size="15.3" text-anchor="end" fill="#000">0.8</text>
<line x1="368.5" y1="1152.27" x2="371.7" y2="1152.27" stroke="#333333" stroke-width="1.2" stroke-linecap="butt"/>
<text x="366.1" y="1157.67" font-size="15.3" text-anchor="end" fill="#000">0.6</text>
<line x1="368.5" y1="1234.04" x2="371.7" y2="1234.04" stroke="#333333" stroke-width="1.2" stroke-linecap="butt"/>
<text x="366.1" y="1239.44" font-size="15.3" text-anchor="end" fill="#000">0.4</text>
<line x1="368.5" y1="1315.81" x2="371.7" y2="1315.81" stroke="#333333" stroke-width="1.2" stroke-linecap="butt"/>
<text x="366.1" y="1321.21" font-size="15.3" text-anchor="end" fill="#000">0.2</text>
<line x1="368.5" y1="1397.58" x2="371.7" y2="1397.58" stroke="#333333" stroke-width="1.2" stroke-linecap="butt"/>
<text x="366.1" y="1402.98" font-size="15.3" text-anchor="end" fill="#000">0.0</text>
<line x1="452.2" y1="1413.5" x2="452.2" y2="1416.7" stroke="#333333" stroke-width="1.2" stroke-linecap="butt"/>
<text x="452.2" y="1430.3" font-size="15.3" text-anchor="middle" fill="#000">autosomes</text>
<line x1="586.2" y1="1413.5" x2="586.2" y2="1416.7" stroke="#333333" stroke-width="1.2" stroke-linecap="butt"/>
<text x="586.2" y="1430.3" font-size="15.3" text-anchor="middle" fill="#000">chrX</text>
<text x="338.5" y="1234.4" font-size="17.4" text-anchor="middle" fill="#000" transform="rotate(-90 338.5 1234.4)">Fraction of confirmed CS-genes</text>
<text x="519.15" y="1042.8" font-size="23.93" text-anchor="middle" fill="#000">Seizures</text>
<circle cx="403.8" cy="1465" r="5.15" fill="#7c7c7c" stroke="#262626" stroke-width="1.25"/>
<text x="423" y="1470.3" font-size="15.3" text-anchor="start" fill="#000">depletion</text>
<circle cx="504.1" cy="1465" r="5.15" fill="#ffa500" stroke="#262626" stroke-width="1.25"/>
<text x="523.3" y="1470.3" font-size="15.3" text-anchor="start" fill="#000">enrichment</text>
<circle cx="618.3" cy="1465" r="5.15" fill="#bebebe" stroke="#262626" stroke-width="1.25"/>
<text x="637.5" y="1470.3" font-size="15.3" text-anchor="start" fill="#000">ns</text>
<text x="316.5" y="1044.2" font-size="56" text-anchor="start" fill="#000">j</text>
<circle cx="1106.48" cy="1301.2" r="5.15" fill="#bebebe" stroke="#262626" stroke-width="1.25"/>
<circle cx="1117.4" cy="1301.2" r="5.15" fill="#bebebe" stroke="#262626" stroke-width="1.25"/>
<circle cx="1128.32" cy="1301.2" r="5.15" fill="#bebebe" stroke="#262626" stroke-width="1.25"/>
<circle cx="1057.34" cy="1315.7" r="5.15" fill="#bebebe" stroke="#262626" stroke-width="1.25"/>
<circle cx="1068.26" cy="1315.7" r="5.15" fill="#bebebe" stroke="#262626" stroke-width="1.25"/>
<circle cx="1079.18" cy="1315.7" r="5.15" fill="#bebebe" stroke="#262626" stroke-width="1.25"/>
<circle cx="1090.1" cy="1315.7" r="5.15" fill="#bebebe" stroke="#262626" stroke-width="1.25"/>
<circle cx="1101.02" cy="1315.7" r="5.15" fill="#bebebe" stroke="#262626" stroke-width="1.25"/>
<circle cx="1111.94" cy="1315.7" r="5.15" fill="#bebebe" stroke="#262626" stroke-width="1.25"/>
<circle cx="1122.86" cy="1315.7" r="5.15" fill="#bebebe" stroke="#262626" stroke-width="1.25"/>
<circle cx="1133.78" cy="1315.7" r="5.15" fill="#bebebe" stroke="#262626" stroke-width="1.25"/>
<circle cx="1144.7" cy="1315.7" r="5.15" fill="#bebebe" stroke="#262626" stroke-width="1.25"/>
<circle cx="1155.62" cy="1315.7" r="5.15" fill="#bebebe" stroke="#262626" stroke-width="1.25"/>
<circle cx="1166.54" cy="1315.7" r="5.15" fill="#bebebe" stroke="#262626" stroke-width="1.25"/>
<circle cx="1177.46" cy="1315.7" r="5.15" fill="#bebebe" stroke="#262626" stroke-width="1.25"/>
<circle cx="1095.56" cy="1328.1" r="5.15" fill="#bebebe" stroke="#262626" stroke-width="1.25"/>
<circle cx="1106.48" cy="1328.1" r="5.15" fill="#bebebe" stroke="#262626" stroke-width="1.25"/>
<circle cx="1117.4" cy="1328.1" r="5.15" fill="#bebebe" stroke="#262626" stroke-width="1.25"/>
<circle cx="1128.32" cy="1328.1" r="5.15" fill="#bebebe" stroke="#262626" stroke-width="1.25"/>
<circle cx="1139.24" cy="1328.1" r="5.15" fill="#bebebe" stroke="#262626" stroke-width="1.25"/>
<circle cx="1111.94" cy="1348.5" r="5.15" fill="#bebebe" stroke="#262626" stroke-width="1.25"/>
<circle cx="1122.86" cy="1348.5" r="5.15" fill="#bebebe" stroke="#262626" stroke-width="1.25"/>
<circle cx="1251.4" cy="1266.7" r="5.15" fill="#ffa500" stroke="#262626" stroke-width="1.25"/>
<line x1="1036.9" y1="1054.6" x2="1036.9" y2="1414.2" stroke="#333333" stroke-width="1.4" stroke-linecap="butt"/>
<line x1="1036.2" y1="1413.5" x2="1331.5" y2="1413.5" stroke="#333333" stroke-width="1.4" stroke-linecap="butt"/>
<line x1="1033.7" y1="1070.5" x2="1036.9" y2="1070.5" stroke="#333333" stroke-width="1.2" stroke-linecap="butt"/>
<text x="1031.3" y="1075.9" font-size="15.3" text-anchor="end" fill="#000">0.8</text>
<line x1="1033.7" y1="1152.27" x2="1036.9" y2="1152.27" stroke="#333333" stroke-width="1.2" stroke-linecap="butt"/>
<text x="1031.3" y="1157.67" font-size="15.3" text-anchor="end" fill="#000">0.6</text>
<line x1="1033.7" y1="1234.04" x2="1036.9" y2="1234.04" stroke="#333333" stroke-width="1.2" stroke-linecap="butt"/>
<text x="1031.3" y="1239.44" font-size="15.3" text-anchor="end" fill="#000">0.4</text>
<line x1="1033.7" y1="1315.81" x2="1036.9" y2="1315.81" stroke="#333333" stroke-width="1.2" stroke-linecap="butt"/>
<text x="1031.3" y="1321.21" font-size="15.3" text-anchor="end" fill="#000">0.2</text>
<line x1="1033.7" y1="1397.58" x2="1036.9" y2="1397.58" stroke="#333333" stroke-width="1.2" stroke-linecap="butt"/>
<text x="1031.3" y="1402.98" font-size="15.3" text-anchor="end" fill="#000">0.0</text>
<line x1="1117.4" y1="1413.5" x2="1117.4" y2="1416.7" stroke="#333333" stroke-width="1.2" stroke-linecap="butt"/>
<text x="1117.4" y="1430.3" font-size="15.3" text-anchor="middle" fill="#000">autosomes</text>
<line x1="1251.4" y1="1413.5" x2="1251.4" y2="1416.7" stroke="#333333" stroke-width="1.2" stroke-linecap="butt"/>
<text x="1251.4" y="1430.3" font-size="15.3" text-anchor="middle" fill="#000">chrX</text>
<text x="1003.75" y="1234.4" font-size="17.4" text-anchor="middle" fill="#000" transform="rotate(-90 1003.75 1234.4)">Fraction of confirmed CS-genes</text>
<text x="1184.2" y="1042.8" font-size="23.93" text-anchor="middle" fill="#000">Language impairment</text>
<circle cx="1069.2" cy="1465" r="5.15" fill="#7c7c7c" stroke="#262626" stroke-width="1.25"/>
<text x="1088.4" y="1470.3" font-size="15.3" text-anchor="start" fill="#000">depletion</text>
<circle cx="1169.3" cy="1465" r="5.15" fill="#ffa500" stroke="#262626" stroke-width="1.25"/>
<text x="1188.5" y="1470.3" font-size="15.3" text-anchor="start" fill="#000">enrichment</text>
<circle cx="1283.3" cy="1465" r="5.15" fill="#bebebe" stroke="#262626" stroke-width="1.25"/>
<text x="1302.5" y="1470.3" font-size="15.3" text-anchor="start" fill="#000">ns</text>
<text x="978.25" y="1044.2" font-size="56" text-anchor="start" fill="#000">l</text>
<circle cx="1780.8" cy="1201.1" r="5.15" fill="#bebebe" stroke="#262626" stroke-width="1.25"/>
<circle cx="1769.87" cy="1211.3" r="5.15" fill="#bebebe" stroke="#262626" stroke-width="1.25"/>
<circle cx="1780.8" cy="1211.3" r="5.15" fill="#bebebe" stroke="#262626" stroke-width="1.25"/>
<circle cx="1791.73" cy="1211.3" r="5.15" fill="#bebebe" stroke="#262626" stroke-width="1.25"/>
<circle cx="1758.94" cy="1225.8" r="5.15" fill="#bebebe" stroke="#262626" stroke-width="1.25"/>
<circle cx="1769.87" cy="1225.8" r="5.15" fill="#bebebe" stroke="#262626" stroke-width="1.25"/>
<circle cx="1780.8" cy="1225.8" r="5.15" fill="#bebebe" stroke="#262626" stroke-width="1.25"/>
<circle cx="1791.73" cy="1225.8" r="5.15" fill="#bebebe" stroke="#262626" stroke-width="1.25"/>
<circle cx="1802.66" cy="1225.8" r="5.15" fill="#bebebe" stroke="#262626" stroke-width="1.25"/>
<circle cx="1742.55" cy="1238" r="5.15" fill="#bebebe" stroke="#262626" stroke-width="1.25"/>
<circle cx="1753.47" cy="1238" r="5.15" fill="#bebebe" stroke="#262626" stroke-width="1.25"/>
<circle cx="1764.4" cy="1238" r="5.15" fill="#bebebe" stroke="#262626" stroke-width="1.25"/>
<circle cx="1775.34" cy="1238" r="5.15" fill="#bebebe" stroke="#262626" stroke-width="1.25"/>
<circle cx="1786.26" cy="1238" r="5.15" fill="#bebebe" stroke="#262626" stroke-width="1.25"/>
<circle cx="1797.19" cy="1238" r="5.15" fill="#bebebe" stroke="#262626" stroke-width="1.25"/>
<circle cx="1808.12" cy="1238" r="5.15" fill="#bebebe" stroke="#262626" stroke-width="1.25"/>
<circle cx="1819.05" cy="1238" r="5.15" fill="#bebebe" stroke="#262626" stroke-width="1.25"/>
<circle cx="1780.8" cy="1254.5" r="5.15" fill="#bebebe" stroke="#262626" stroke-width="1.25"/>
<circle cx="1764.4" cy="1270.8" r="5.15" fill="#bebebe" stroke="#262626" stroke-width="1.25"/>
<circle cx="1775.34" cy="1270.8" r="5.15" fill="#bebebe" stroke="#262626" stroke-width="1.25"/>
<circle cx="1786.26" cy="1270.8" r="5.15" fill="#bebebe" stroke="#262626" stroke-width="1.25"/>
<circle cx="1797.19" cy="1270.8" r="5.15" fill="#bebebe" stroke="#262626" stroke-width="1.25"/>
<circle cx="1914.6" cy="1201.1" r="5.15" fill="#bebebe" stroke="#262626" stroke-width="1.25"/>
<line x1="1700.5" y1="1054.6" x2="1700.5" y2="1414.2" stroke="#333333" stroke-width="1.4" stroke-linecap="butt"/>
<line x1="1699.8" y1="1413.5" x2="1995" y2="1413.5" stroke="#333333" stroke-width="1.4" stroke-linecap="butt"/>
<line x1="1697.3" y1="1070.5" x2="1700.5" y2="1070.5" stroke="#333333" stroke-width="1.2" stroke-linecap="butt"/>
<text x="1694.9" y="1075.9" font-size="15.3" text-anchor="end" fill="#000">0.8</text>
<line x1="1697.3" y1="1152.27" x2="1700.5" y2="1152.27" stroke="#333333" stroke-width="1.2" stroke-linecap="butt"/>
<text x="1694.9" y="1157.67" font-size="15.3" text-anchor="end" fill="#000">0.6</text>
<line x1="1697.3" y1="1234.04" x2="1700.5" y2="1234.04" stroke="#333333" stroke-width="1.2" stroke-linecap="butt"/>
<text x="1694.9" y="1239.44" font-size="15.3" text-anchor="end" fill="#000">0.4</text>
<line x1="1697.3" y1="1315.81" x2="1700.5" y2="1315.81" stroke="#333333" stroke-width="1.2" stroke-linecap="butt"/>
<text x="1694.9" y="1321.21" font-size="15.3" text-anchor="end" fill="#000">0.2</text>
<line x1="1697.3" y1="1397.58" x2="1700.5" y2="1397.58" stroke="#333333" stroke-width="1.2" stroke-linecap="butt"/>
<text x="1694.9" y="1402.98" font-size="15.3" text-anchor="end" fill="#000">0.0</text>
<line x1="1780.8" y1="1413.5" x2="1780.8" y2="1416.7" stroke="#333333" stroke-width="1.2" stroke-linecap="butt"/>
<text x="1780.8" y="1430.3" font-size="15.3" text-anchor="middle" fill="#000">autosomes</text>
<line x1="1914.6" y1="1413.5" x2="1914.6" y2="1416.7" stroke="#333333" stroke-width="1.2" stroke-linecap="butt"/>
<text x="1914.6" y="1430.3" font-size="15.3" text-anchor="middle" fill="#000">chrX</text>
<text x="1667.3" y="1234.4" font-size="17.4" text-anchor="middle" fill="#000" transform="rotate(-90 1667.3 1234.4)">Fraction of confirmed CS-genes</text>
<text x="1847.75" y="1042.8" font-size="23.93" text-anchor="middle" fill="#000">Motor impairment</text>
<circle cx="1732.4" cy="1465" r="5.15" fill="#7c7c7c" stroke="#262626" stroke-width="1.25"/>
<text x="1751.6" y="1470.3" font-size="15.3" text-anchor="start" fill="#000">depletion</text>
<circle cx="1832.7" cy="1465" r="5.15" fill="#ffa500" stroke="#262626" stroke-width="1.25"/>
<text x="1851.9" y="1470.3" font-size="15.3" text-anchor="start" fill="#000">enrichment</text>
<circle cx="1946.7" cy="1465" r="5.15" fill="#bebebe" stroke="#262626" stroke-width="1.25"/>
<text x="1965.9" y="1470.3" font-size="15.3" text-anchor="start" fill="#000">ns</text>
<text x="1645.3" y="1044.3" font-size="56" text-anchor="start" fill="#000">n</text>
</svg>
</body></html>
